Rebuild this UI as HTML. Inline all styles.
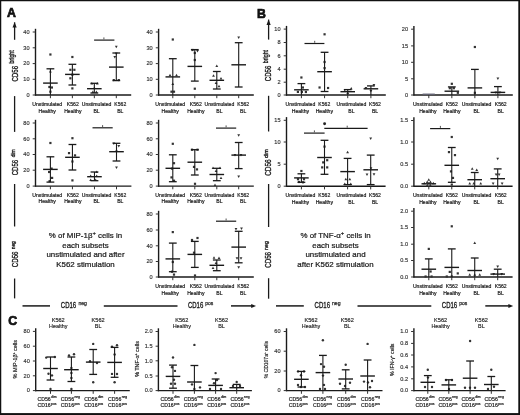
<!DOCTYPE html><html><head><meta charset="utf-8"><title>Figure</title>
<style>html,body{margin:0;padding:0;background:#fff;}svg{display:block;will-change:transform;}text{font-family:"Liberation Sans", sans-serif;}</style></head><body>
<svg width="520" height="415" viewBox="0 0 520 415">
<rect x="0" y="0" width="520" height="415" fill="#fff"/>
<line x1="35.50" y1="28.80" x2="35.50" y2="95.60" stroke="#1a1a1a" stroke-width="1.4"/>
<line x1="34.90" y1="95.00" x2="131.20" y2="95.00" stroke="#1a1a1a" stroke-width="1.4"/>
<line x1="32.70" y1="32.00" x2="35.50" y2="32.00" stroke="#333" stroke-width="1.0"/>
<text x="29.60" y="33.70" font-size="5.6" text-anchor="end" fill="#333" stroke="#333" stroke-width="0.15" >40</text>
<line x1="32.70" y1="47.80" x2="35.50" y2="47.80" stroke="#333" stroke-width="1.0"/>
<text x="29.60" y="49.50" font-size="5.6" text-anchor="end" fill="#333" stroke="#333" stroke-width="0.15" >30</text>
<line x1="32.70" y1="63.60" x2="35.50" y2="63.60" stroke="#333" stroke-width="1.0"/>
<text x="29.60" y="65.30" font-size="5.6" text-anchor="end" fill="#333" stroke="#333" stroke-width="0.15" >20</text>
<line x1="32.70" y1="79.30" x2="35.50" y2="79.30" stroke="#333" stroke-width="1.0"/>
<text x="29.60" y="81.00" font-size="5.6" text-anchor="end" fill="#333" stroke="#333" stroke-width="0.15" >10</text>
<line x1="32.70" y1="95.00" x2="35.50" y2="95.00" stroke="#333" stroke-width="1.0"/>
<text x="29.60" y="96.70" font-size="5.6" text-anchor="end" fill="#333" stroke="#333" stroke-width="0.15" >0</text>
<line x1="50.40" y1="95.00" x2="50.40" y2="98.20" stroke="#333" stroke-width="1.0"/>
<rect x="49.30" y="53.40" width="2.2" height="2.2" fill="#333"/>
<path d="M50.40 70.10L51.80 72.60L49.00 72.60Z" fill="#333"/>
<rect x="48.30" y="85.90" width="2.2" height="2.2" fill="#333"/>
<rect x="50.80" y="86.40" width="2.2" height="2.2" fill="#333"/>
<rect x="49.30" y="90.60" width="2.2" height="2.2" fill="#333"/>
<line x1="50.40" y1="68.80" x2="50.40" y2="95.00" stroke="#1a1a1a" stroke-width="1.1"/>
<line x1="46.50" y1="68.80" x2="54.30" y2="68.80" stroke="#1a1a1a" stroke-width="1.3"/>
<line x1="43.10" y1="83.10" x2="57.70" y2="83.10" stroke="#1a1a1a" stroke-width="1.4"/>
<line x1="72.37" y1="95.00" x2="72.37" y2="98.20" stroke="#333" stroke-width="1.0"/>
<rect x="71.27" y="55.90" width="2.2" height="2.2" fill="#333"/>
<rect x="69.27" y="68.70" width="2.2" height="2.2" fill="#333"/>
<rect x="73.27" y="68.70" width="2.2" height="2.2" fill="#333"/>
<rect x="71.27" y="73.60" width="2.2" height="2.2" fill="#333"/>
<rect x="69.27" y="77.20" width="2.2" height="2.2" fill="#333"/>
<rect x="71.27" y="87.30" width="2.2" height="2.2" fill="#333"/>
<line x1="72.37" y1="64.30" x2="72.37" y2="85.00" stroke="#1a1a1a" stroke-width="1.1"/>
<line x1="68.47" y1="64.30" x2="76.27" y2="64.30" stroke="#1a1a1a" stroke-width="1.3"/>
<line x1="68.47" y1="85.00" x2="76.27" y2="85.00" stroke="#1a1a1a" stroke-width="1.3"/>
<line x1="65.07" y1="74.40" x2="79.67" y2="74.40" stroke="#1a1a1a" stroke-width="1.4"/>
<line x1="94.33" y1="95.00" x2="94.33" y2="98.20" stroke="#333" stroke-width="1.0"/>
<path d="M91.83 82.10L93.23 84.60L90.43 84.60Z" fill="#333"/>
<path d="M97.33 82.10L98.73 84.60L95.93 84.60Z" fill="#333"/>
<path d="M94.33 86.60L95.73 89.10L92.93 89.10Z" fill="#333"/>
<path d="M92.83 90.60L94.23 93.10L91.43 93.10Z" fill="#333"/>
<path d="M96.33 90.60L97.73 93.10L94.93 93.10Z" fill="#333"/>
<line x1="94.33" y1="83.30" x2="94.33" y2="93.00" stroke="#1a1a1a" stroke-width="1.1"/>
<line x1="90.43" y1="83.30" x2="98.23" y2="83.30" stroke="#1a1a1a" stroke-width="1.3"/>
<line x1="90.43" y1="93.00" x2="98.23" y2="93.00" stroke="#1a1a1a" stroke-width="1.3"/>
<line x1="87.03" y1="88.70" x2="101.63" y2="88.70" stroke="#1a1a1a" stroke-width="1.4"/>
<line x1="116.30" y1="95.00" x2="116.30" y2="98.20" stroke="#333" stroke-width="1.0"/>
<path d="M116.30 48.30L117.70 45.80L114.90 45.80Z" fill="#333"/>
<path d="M116.30 54.90L117.70 52.40L114.90 52.40Z" fill="#333"/>
<path d="M114.80 58.40L116.20 55.90L113.40 55.90Z" fill="#333"/>
<path d="M113.80 81.60L115.20 79.10L112.40 79.10Z" fill="#333"/>
<path d="M118.80 81.60L120.20 79.10L117.40 79.10Z" fill="#333"/>
<line x1="116.30" y1="53.00" x2="116.30" y2="80.60" stroke="#1a1a1a" stroke-width="1.1"/>
<line x1="112.40" y1="53.00" x2="120.20" y2="53.00" stroke="#1a1a1a" stroke-width="1.3"/>
<line x1="112.40" y1="80.60" x2="120.20" y2="80.60" stroke="#1a1a1a" stroke-width="1.3"/>
<line x1="109.00" y1="67.10" x2="123.60" y2="67.10" stroke="#1a1a1a" stroke-width="1.4"/>
<text x="47.20" y="106.00" font-size="5.1" text-anchor="middle" fill="#1a1a1a" stroke="#1a1a1a" stroke-width="0.2" >Unstimulated</text>
<text x="47.20" y="112.60" font-size="5.1" text-anchor="middle" fill="#1a1a1a" stroke="#1a1a1a" stroke-width="0.2" >Healthy</text>
<text x="72.80" y="106.00" font-size="5.1" text-anchor="middle" fill="#1a1a1a" stroke="#1a1a1a" stroke-width="0.2" >K562</text>
<text x="72.80" y="112.60" font-size="5.1" text-anchor="middle" fill="#1a1a1a" stroke="#1a1a1a" stroke-width="0.2" >Healthy</text>
<text x="96.60" y="106.00" font-size="5.1" text-anchor="middle" fill="#1a1a1a" stroke="#1a1a1a" stroke-width="0.2" >Unstimulated</text>
<text x="96.60" y="112.60" font-size="5.1" text-anchor="middle" fill="#1a1a1a" stroke="#1a1a1a" stroke-width="0.2" >BL</text>
<text x="120.30" y="106.00" font-size="5.1" text-anchor="middle" fill="#1a1a1a" stroke="#1a1a1a" stroke-width="0.2" >K562</text>
<text x="120.30" y="112.60" font-size="5.1" text-anchor="middle" fill="#1a1a1a" stroke="#1a1a1a" stroke-width="0.2" >BL</text>
<line x1="94.10" y1="40.10" x2="114.40" y2="40.10" stroke="#1a1a1a" stroke-width="1.2"/>
<rect x="103.40" y="37.40" width="1.0" height="2.0" fill="#555"/>
<line x1="158.60" y1="28.80" x2="158.60" y2="95.60" stroke="#1a1a1a" stroke-width="1.4"/>
<line x1="158.00" y1="95.00" x2="253.80" y2="95.00" stroke="#1a1a1a" stroke-width="1.4"/>
<line x1="155.80" y1="32.00" x2="158.60" y2="32.00" stroke="#333" stroke-width="1.0"/>
<text x="152.70" y="33.70" font-size="5.6" text-anchor="end" fill="#333" stroke="#333" stroke-width="0.15" >40</text>
<line x1="155.80" y1="47.80" x2="158.60" y2="47.80" stroke="#333" stroke-width="1.0"/>
<text x="152.70" y="49.50" font-size="5.6" text-anchor="end" fill="#333" stroke="#333" stroke-width="0.15" >30</text>
<line x1="155.80" y1="63.60" x2="158.60" y2="63.60" stroke="#333" stroke-width="1.0"/>
<text x="152.70" y="65.30" font-size="5.6" text-anchor="end" fill="#333" stroke="#333" stroke-width="0.15" >20</text>
<line x1="155.80" y1="79.30" x2="158.60" y2="79.30" stroke="#333" stroke-width="1.0"/>
<text x="152.70" y="81.00" font-size="5.6" text-anchor="end" fill="#333" stroke="#333" stroke-width="0.15" >10</text>
<line x1="155.80" y1="95.00" x2="158.60" y2="95.00" stroke="#333" stroke-width="1.0"/>
<text x="152.70" y="96.70" font-size="5.6" text-anchor="end" fill="#333" stroke="#333" stroke-width="0.15" >0</text>
<line x1="172.80" y1="95.00" x2="172.80" y2="98.20" stroke="#333" stroke-width="1.0"/>
<rect x="171.70" y="38.40" width="2.2" height="2.2" fill="#333"/>
<path d="M170.00 73.80L171.40 76.30L168.60 76.30Z" fill="#333"/>
<path d="M176.50 73.80L177.90 76.30L175.10 76.30Z" fill="#333"/>
<path d="M172.80 82.60L174.20 85.10L171.40 85.10Z" fill="#333"/>
<rect x="170.40" y="90.60" width="2.2" height="2.2" fill="#333"/>
<rect x="172.90" y="90.60" width="2.2" height="2.2" fill="#333"/>
<line x1="172.80" y1="58.70" x2="172.80" y2="95.00" stroke="#1a1a1a" stroke-width="1.1"/>
<line x1="168.90" y1="58.70" x2="176.70" y2="58.70" stroke="#1a1a1a" stroke-width="1.3"/>
<line x1="165.50" y1="76.90" x2="180.10" y2="76.90" stroke="#1a1a1a" stroke-width="1.4"/>
<line x1="194.80" y1="95.00" x2="194.80" y2="98.20" stroke="#333" stroke-width="1.0"/>
<rect x="191.40" y="48.90" width="2.2" height="2.2" fill="#333"/>
<path d="M197.50 52.40L198.90 49.90L196.10 49.90Z" fill="#333"/>
<rect x="193.70" y="51.90" width="2.2" height="2.2" fill="#333"/>
<rect x="193.70" y="58.90" width="2.2" height="2.2" fill="#333"/>
<rect x="193.70" y="87.60" width="2.2" height="2.2" fill="#333"/>
<line x1="194.80" y1="49.60" x2="194.80" y2="81.10" stroke="#1a1a1a" stroke-width="1.1"/>
<line x1="190.90" y1="49.60" x2="198.70" y2="49.60" stroke="#1a1a1a" stroke-width="1.3"/>
<line x1="190.90" y1="81.10" x2="198.70" y2="81.10" stroke="#1a1a1a" stroke-width="1.3"/>
<line x1="187.50" y1="66.40" x2="202.10" y2="66.40" stroke="#1a1a1a" stroke-width="1.4"/>
<line x1="216.80" y1="95.00" x2="216.80" y2="98.20" stroke="#333" stroke-width="1.0"/>
<path d="M216.80 64.60L218.20 67.10L215.40 67.10Z" fill="#333"/>
<path d="M213.50 74.30L214.90 76.80L212.10 76.80Z" fill="#333"/>
<path d="M221.00 76.90L222.40 79.40L219.60 79.40Z" fill="#333"/>
<path d="M216.00 81.40L217.40 83.90L214.60 83.90Z" fill="#333"/>
<path d="M219.00 84.80L220.40 87.30L217.60 87.30Z" fill="#333"/>
<line x1="216.80" y1="71.50" x2="216.80" y2="89.00" stroke="#1a1a1a" stroke-width="1.1"/>
<line x1="212.90" y1="71.50" x2="220.70" y2="71.50" stroke="#1a1a1a" stroke-width="1.3"/>
<line x1="212.90" y1="89.00" x2="220.70" y2="89.00" stroke="#1a1a1a" stroke-width="1.3"/>
<line x1="209.50" y1="80.30" x2="224.10" y2="80.30" stroke="#1a1a1a" stroke-width="1.4"/>
<line x1="238.70" y1="95.00" x2="238.70" y2="98.20" stroke="#333" stroke-width="1.0"/>
<path d="M238.70 39.00L240.10 36.50L237.30 36.50Z" fill="#333"/>
<line x1="238.70" y1="42.70" x2="238.70" y2="87.00" stroke="#1a1a1a" stroke-width="1.1"/>
<line x1="234.80" y1="42.70" x2="242.60" y2="42.70" stroke="#1a1a1a" stroke-width="1.3"/>
<line x1="234.80" y1="87.00" x2="242.60" y2="87.00" stroke="#1a1a1a" stroke-width="1.3"/>
<line x1="231.40" y1="64.80" x2="246.00" y2="64.80" stroke="#1a1a1a" stroke-width="1.4"/>
<text x="170.20" y="106.00" font-size="5.1" text-anchor="middle" fill="#1a1a1a" stroke="#1a1a1a" stroke-width="0.2" >Unstimulated</text>
<text x="170.20" y="112.60" font-size="5.1" text-anchor="middle" fill="#1a1a1a" stroke="#1a1a1a" stroke-width="0.2" >Healthy</text>
<text x="195.80" y="106.00" font-size="5.1" text-anchor="middle" fill="#1a1a1a" stroke="#1a1a1a" stroke-width="0.2" >K562</text>
<text x="195.80" y="112.60" font-size="5.1" text-anchor="middle" fill="#1a1a1a" stroke="#1a1a1a" stroke-width="0.2" >Healthy</text>
<text x="219.40" y="106.00" font-size="5.1" text-anchor="middle" fill="#1a1a1a" stroke="#1a1a1a" stroke-width="0.2" >Unstimulated</text>
<text x="219.40" y="112.60" font-size="5.1" text-anchor="middle" fill="#1a1a1a" stroke="#1a1a1a" stroke-width="0.2" >BL</text>
<text x="243.20" y="106.00" font-size="5.1" text-anchor="middle" fill="#1a1a1a" stroke="#1a1a1a" stroke-width="0.2" >K562</text>
<text x="243.20" y="112.60" font-size="5.1" text-anchor="middle" fill="#1a1a1a" stroke="#1a1a1a" stroke-width="0.2" >BL</text>
<line x1="35.50" y1="119.80" x2="35.50" y2="186.70" stroke="#1a1a1a" stroke-width="1.4"/>
<line x1="34.90" y1="186.10" x2="131.40" y2="186.10" stroke="#1a1a1a" stroke-width="1.4"/>
<line x1="32.70" y1="123.00" x2="35.50" y2="123.00" stroke="#333" stroke-width="1.0"/>
<text x="29.60" y="124.70" font-size="5.6" text-anchor="end" fill="#333" stroke="#333" stroke-width="0.15" >80</text>
<line x1="32.70" y1="138.80" x2="35.50" y2="138.80" stroke="#333" stroke-width="1.0"/>
<text x="29.60" y="140.50" font-size="5.6" text-anchor="end" fill="#333" stroke="#333" stroke-width="0.15" >60</text>
<line x1="32.70" y1="154.50" x2="35.50" y2="154.50" stroke="#333" stroke-width="1.0"/>
<text x="29.60" y="156.20" font-size="5.6" text-anchor="end" fill="#333" stroke="#333" stroke-width="0.15" >40</text>
<line x1="32.70" y1="170.20" x2="35.50" y2="170.20" stroke="#333" stroke-width="1.0"/>
<text x="29.60" y="171.90" font-size="5.6" text-anchor="end" fill="#333" stroke="#333" stroke-width="0.15" >20</text>
<line x1="32.70" y1="186.10" x2="35.50" y2="186.10" stroke="#333" stroke-width="1.0"/>
<text x="29.60" y="187.80" font-size="5.6" text-anchor="end" fill="#333" stroke="#333" stroke-width="0.15" >0</text>
<line x1="50.40" y1="186.10" x2="50.40" y2="189.30" stroke="#333" stroke-width="1.0"/>
<rect x="49.30" y="141.90" width="2.2" height="2.2" fill="#333"/>
<rect x="50.50" y="167.50" width="2.2" height="2.2" fill="#333"/>
<rect x="48.00" y="170.90" width="2.2" height="2.2" fill="#333"/>
<rect x="51.00" y="176.80" width="2.2" height="2.2" fill="#333"/>
<rect x="48.50" y="180.10" width="2.2" height="2.2" fill="#333"/>
<line x1="50.40" y1="156.80" x2="50.40" y2="182.10" stroke="#1a1a1a" stroke-width="1.1"/>
<line x1="46.50" y1="156.80" x2="54.30" y2="156.80" stroke="#1a1a1a" stroke-width="1.3"/>
<line x1="46.50" y1="182.10" x2="54.30" y2="182.10" stroke="#1a1a1a" stroke-width="1.3"/>
<line x1="43.10" y1="169.40" x2="57.70" y2="169.40" stroke="#1a1a1a" stroke-width="1.4"/>
<line x1="72.43" y1="186.10" x2="72.43" y2="189.30" stroke="#333" stroke-width="1.0"/>
<rect x="71.33" y="137.10" width="2.2" height="2.2" fill="#333"/>
<rect x="67.93" y="152.00" width="2.2" height="2.2" fill="#333"/>
<rect x="73.93" y="154.30" width="2.2" height="2.2" fill="#333"/>
<rect x="71.33" y="160.40" width="2.2" height="2.2" fill="#333"/>
<rect x="71.33" y="179.30" width="2.2" height="2.2" fill="#333"/>
<line x1="72.43" y1="144.50" x2="72.43" y2="170.00" stroke="#1a1a1a" stroke-width="1.1"/>
<line x1="68.53" y1="144.50" x2="76.33" y2="144.50" stroke="#1a1a1a" stroke-width="1.3"/>
<line x1="68.53" y1="170.00" x2="76.33" y2="170.00" stroke="#1a1a1a" stroke-width="1.3"/>
<line x1="65.13" y1="157.30" x2="79.73" y2="157.30" stroke="#1a1a1a" stroke-width="1.4"/>
<line x1="94.47" y1="186.10" x2="94.47" y2="189.30" stroke="#333" stroke-width="1.0"/>
<path d="M96.67 170.60L98.07 173.10L95.27 173.10Z" fill="#333"/>
<path d="M90.67 174.60L92.07 177.10L89.27 177.10Z" fill="#333"/>
<path d="M96.67 174.60L98.07 177.10L95.27 177.10Z" fill="#333"/>
<path d="M90.67 178.60L92.07 181.10L89.27 181.10Z" fill="#333"/>
<path d="M95.67 178.60L97.07 181.10L94.27 181.10Z" fill="#333"/>
<line x1="94.47" y1="172.00" x2="94.47" y2="180.70" stroke="#1a1a1a" stroke-width="1.1"/>
<line x1="90.57" y1="172.00" x2="98.37" y2="172.00" stroke="#1a1a1a" stroke-width="1.3"/>
<line x1="90.57" y1="180.70" x2="98.37" y2="180.70" stroke="#1a1a1a" stroke-width="1.3"/>
<line x1="87.17" y1="176.70" x2="101.77" y2="176.70" stroke="#1a1a1a" stroke-width="1.4"/>
<line x1="116.50" y1="186.10" x2="116.50" y2="189.30" stroke="#333" stroke-width="1.0"/>
<path d="M116.50 169.10L117.90 166.60L115.10 166.60Z" fill="#333"/>
<path d="M113.80 144.90L115.20 142.40L112.40 142.40Z" fill="#333"/>
<path d="M118.80 147.40L120.20 144.90L117.40 144.90Z" fill="#333"/>
<path d="M116.50 152.90L117.90 150.40L115.10 150.40Z" fill="#333"/>
<line x1="116.50" y1="143.30" x2="116.50" y2="161.00" stroke="#1a1a1a" stroke-width="1.1"/>
<line x1="112.60" y1="143.30" x2="120.40" y2="143.30" stroke="#1a1a1a" stroke-width="1.3"/>
<line x1="112.60" y1="161.00" x2="120.40" y2="161.00" stroke="#1a1a1a" stroke-width="1.3"/>
<line x1="109.20" y1="151.70" x2="123.80" y2="151.70" stroke="#1a1a1a" stroke-width="1.4"/>
<text x="47.20" y="196.80" font-size="5.1" text-anchor="middle" fill="#1a1a1a" stroke="#1a1a1a" stroke-width="0.2" >Unstimulated</text>
<text x="47.20" y="203.40" font-size="5.1" text-anchor="middle" fill="#1a1a1a" stroke="#1a1a1a" stroke-width="0.2" >Healthy</text>
<text x="72.80" y="196.80" font-size="5.1" text-anchor="middle" fill="#1a1a1a" stroke="#1a1a1a" stroke-width="0.2" >K562</text>
<text x="72.80" y="203.40" font-size="5.1" text-anchor="middle" fill="#1a1a1a" stroke="#1a1a1a" stroke-width="0.2" >Healthy</text>
<text x="96.60" y="196.80" font-size="5.1" text-anchor="middle" fill="#1a1a1a" stroke="#1a1a1a" stroke-width="0.2" >Unstimulated</text>
<text x="96.60" y="203.40" font-size="5.1" text-anchor="middle" fill="#1a1a1a" stroke="#1a1a1a" stroke-width="0.2" >BL</text>
<text x="120.30" y="196.80" font-size="5.1" text-anchor="middle" fill="#1a1a1a" stroke="#1a1a1a" stroke-width="0.2" >K562</text>
<text x="120.30" y="203.40" font-size="5.1" text-anchor="middle" fill="#1a1a1a" stroke="#1a1a1a" stroke-width="0.2" >BL</text>
<line x1="92.50" y1="127.80" x2="112.70" y2="127.80" stroke="#1a1a1a" stroke-width="1.2"/>
<rect x="102.10" y="125.10" width="1.0" height="2.0" fill="#555"/>
<line x1="158.60" y1="119.80" x2="158.60" y2="186.70" stroke="#1a1a1a" stroke-width="1.4"/>
<line x1="158.00" y1="186.10" x2="253.80" y2="186.10" stroke="#1a1a1a" stroke-width="1.4"/>
<line x1="155.80" y1="123.00" x2="158.60" y2="123.00" stroke="#333" stroke-width="1.0"/>
<text x="152.70" y="124.70" font-size="5.6" text-anchor="end" fill="#333" stroke="#333" stroke-width="0.15" >80</text>
<line x1="155.80" y1="138.80" x2="158.60" y2="138.80" stroke="#333" stroke-width="1.0"/>
<text x="152.70" y="140.50" font-size="5.6" text-anchor="end" fill="#333" stroke="#333" stroke-width="0.15" >60</text>
<line x1="155.80" y1="154.50" x2="158.60" y2="154.50" stroke="#333" stroke-width="1.0"/>
<text x="152.70" y="156.20" font-size="5.6" text-anchor="end" fill="#333" stroke="#333" stroke-width="0.15" >40</text>
<line x1="155.80" y1="170.20" x2="158.60" y2="170.20" stroke="#333" stroke-width="1.0"/>
<text x="152.70" y="171.90" font-size="5.6" text-anchor="end" fill="#333" stroke="#333" stroke-width="0.15" >20</text>
<line x1="155.80" y1="186.10" x2="158.60" y2="186.10" stroke="#333" stroke-width="1.0"/>
<text x="152.70" y="187.80" font-size="5.6" text-anchor="end" fill="#333" stroke="#333" stroke-width="0.15" >0</text>
<line x1="172.80" y1="186.10" x2="172.80" y2="189.30" stroke="#333" stroke-width="1.0"/>
<rect x="171.70" y="142.70" width="2.2" height="2.2" fill="#333"/>
<rect x="172.90" y="162.10" width="2.2" height="2.2" fill="#333"/>
<rect x="170.90" y="167.50" width="2.2" height="2.2" fill="#333"/>
<rect x="170.40" y="176.30" width="2.2" height="2.2" fill="#333"/>
<rect x="172.90" y="179.60" width="2.2" height="2.2" fill="#333"/>
<line x1="172.80" y1="154.80" x2="172.80" y2="181.70" stroke="#1a1a1a" stroke-width="1.1"/>
<line x1="168.90" y1="154.80" x2="176.70" y2="154.80" stroke="#1a1a1a" stroke-width="1.3"/>
<line x1="168.90" y1="181.70" x2="176.70" y2="181.70" stroke="#1a1a1a" stroke-width="1.3"/>
<line x1="165.50" y1="168.30" x2="180.10" y2="168.30" stroke="#1a1a1a" stroke-width="1.4"/>
<line x1="194.80" y1="186.10" x2="194.80" y2="189.30" stroke="#333" stroke-width="1.0"/>
<rect x="190.90" y="148.60" width="2.2" height="2.2" fill="#333"/>
<rect x="196.40" y="148.60" width="2.2" height="2.2" fill="#333"/>
<rect x="192.90" y="165.80" width="2.2" height="2.2" fill="#333"/>
<rect x="195.90" y="168.30" width="2.2" height="2.2" fill="#333"/>
<rect x="193.90" y="182.70" width="2.2" height="2.2" fill="#333"/>
<line x1="194.80" y1="149.70" x2="194.80" y2="175.00" stroke="#1a1a1a" stroke-width="1.1"/>
<line x1="190.90" y1="149.70" x2="198.70" y2="149.70" stroke="#1a1a1a" stroke-width="1.3"/>
<line x1="190.90" y1="175.00" x2="198.70" y2="175.00" stroke="#1a1a1a" stroke-width="1.3"/>
<line x1="187.50" y1="162.20" x2="202.10" y2="162.20" stroke="#1a1a1a" stroke-width="1.4"/>
<line x1="216.80" y1="186.10" x2="216.80" y2="189.30" stroke="#333" stroke-width="1.0"/>
<path d="M213.00 166.60L214.40 169.10L211.60 169.10Z" fill="#333"/>
<path d="M220.00 166.60L221.40 169.10L218.60 169.10Z" fill="#333"/>
<path d="M216.00 169.60L217.40 172.10L214.60 172.10Z" fill="#333"/>
<path d="M221.00 176.60L222.40 179.10L219.60 179.10Z" fill="#333"/>
<path d="M215.00 183.60L216.40 186.10L213.60 186.10Z" fill="#333"/>
<line x1="216.80" y1="168.30" x2="216.80" y2="180.70" stroke="#1a1a1a" stroke-width="1.1"/>
<line x1="212.90" y1="168.30" x2="220.70" y2="168.30" stroke="#1a1a1a" stroke-width="1.3"/>
<line x1="212.90" y1="180.70" x2="220.70" y2="180.70" stroke="#1a1a1a" stroke-width="1.3"/>
<line x1="209.50" y1="174.50" x2="224.10" y2="174.50" stroke="#1a1a1a" stroke-width="1.4"/>
<line x1="238.70" y1="186.10" x2="238.70" y2="189.30" stroke="#333" stroke-width="1.0"/>
<path d="M238.70 136.80L240.10 134.30L237.30 134.30Z" fill="#333"/>
<path d="M238.70 178.10L240.10 175.60L237.30 175.60Z" fill="#333"/>
<path d="M235.00 156.40L236.40 153.90L233.60 153.90Z" fill="#333"/>
<path d="M241.00 156.40L242.40 153.90L239.60 153.90Z" fill="#333"/>
<line x1="238.70" y1="142.50" x2="238.70" y2="168.60" stroke="#1a1a1a" stroke-width="1.1"/>
<line x1="234.80" y1="142.50" x2="242.60" y2="142.50" stroke="#1a1a1a" stroke-width="1.3"/>
<line x1="234.80" y1="168.60" x2="242.60" y2="168.60" stroke="#1a1a1a" stroke-width="1.3"/>
<line x1="231.40" y1="155.10" x2="246.00" y2="155.10" stroke="#1a1a1a" stroke-width="1.4"/>
<text x="170.20" y="196.80" font-size="5.1" text-anchor="middle" fill="#1a1a1a" stroke="#1a1a1a" stroke-width="0.2" >Unstimulated</text>
<text x="170.20" y="203.40" font-size="5.1" text-anchor="middle" fill="#1a1a1a" stroke="#1a1a1a" stroke-width="0.2" >Healthy</text>
<text x="195.80" y="196.80" font-size="5.1" text-anchor="middle" fill="#1a1a1a" stroke="#1a1a1a" stroke-width="0.2" >K562</text>
<text x="195.80" y="203.40" font-size="5.1" text-anchor="middle" fill="#1a1a1a" stroke="#1a1a1a" stroke-width="0.2" >Healthy</text>
<text x="219.40" y="196.80" font-size="5.1" text-anchor="middle" fill="#1a1a1a" stroke="#1a1a1a" stroke-width="0.2" >Unstimulated</text>
<text x="219.40" y="203.40" font-size="5.1" text-anchor="middle" fill="#1a1a1a" stroke="#1a1a1a" stroke-width="0.2" >BL</text>
<text x="243.20" y="196.80" font-size="5.1" text-anchor="middle" fill="#1a1a1a" stroke="#1a1a1a" stroke-width="0.2" >K562</text>
<text x="243.20" y="203.40" font-size="5.1" text-anchor="middle" fill="#1a1a1a" stroke="#1a1a1a" stroke-width="0.2" >BL</text>
<line x1="216.00" y1="128.10" x2="236.20" y2="128.10" stroke="#1a1a1a" stroke-width="1.2"/>
<rect x="225.60" y="125.40" width="1.0" height="2.0" fill="#555"/>
<line x1="158.60" y1="210.80" x2="158.60" y2="277.60" stroke="#1a1a1a" stroke-width="1.4"/>
<line x1="158.00" y1="277.00" x2="253.80" y2="277.00" stroke="#1a1a1a" stroke-width="1.4"/>
<line x1="155.80" y1="214.00" x2="158.60" y2="214.00" stroke="#333" stroke-width="1.0"/>
<text x="152.70" y="215.70" font-size="5.6" text-anchor="end" fill="#333" stroke="#333" stroke-width="0.15" >80</text>
<line x1="155.80" y1="230.00" x2="158.60" y2="230.00" stroke="#333" stroke-width="1.0"/>
<text x="152.70" y="231.70" font-size="5.6" text-anchor="end" fill="#333" stroke="#333" stroke-width="0.15" >60</text>
<line x1="155.80" y1="245.80" x2="158.60" y2="245.80" stroke="#333" stroke-width="1.0"/>
<text x="152.70" y="247.50" font-size="5.6" text-anchor="end" fill="#333" stroke="#333" stroke-width="0.15" >40</text>
<line x1="155.80" y1="261.50" x2="158.60" y2="261.50" stroke="#333" stroke-width="1.0"/>
<text x="152.70" y="263.20" font-size="5.6" text-anchor="end" fill="#333" stroke="#333" stroke-width="0.15" >20</text>
<line x1="155.80" y1="277.00" x2="158.60" y2="277.00" stroke="#333" stroke-width="1.0"/>
<text x="152.70" y="278.70" font-size="5.6" text-anchor="end" fill="#333" stroke="#333" stroke-width="0.15" >0</text>
<line x1="172.80" y1="277.00" x2="172.80" y2="280.20" stroke="#333" stroke-width="1.0"/>
<rect x="171.70" y="231.00" width="2.2" height="2.2" fill="#333"/>
<rect x="170.90" y="270.60" width="2.2" height="2.2" fill="#333"/>
<rect x="172.90" y="273.50" width="2.2" height="2.2" fill="#333"/>
<rect x="171.70" y="260.90" width="2.2" height="2.2" fill="#333"/>
<line x1="172.80" y1="243.10" x2="172.80" y2="271.70" stroke="#1a1a1a" stroke-width="1.1"/>
<line x1="168.90" y1="243.10" x2="176.70" y2="243.10" stroke="#1a1a1a" stroke-width="1.3"/>
<line x1="168.90" y1="271.70" x2="176.70" y2="271.70" stroke="#1a1a1a" stroke-width="1.3"/>
<line x1="165.50" y1="258.90" x2="180.10" y2="258.90" stroke="#1a1a1a" stroke-width="1.4"/>
<line x1="194.80" y1="277.00" x2="194.80" y2="280.20" stroke="#333" stroke-width="1.0"/>
<rect x="190.90" y="238.90" width="2.2" height="2.2" fill="#333"/>
<rect x="196.40" y="236.90" width="2.2" height="2.2" fill="#333"/>
<rect x="192.90" y="251.60" width="2.2" height="2.2" fill="#333"/>
<rect x="193.90" y="274.40" width="2.2" height="2.2" fill="#333"/>
<line x1="194.80" y1="241.40" x2="194.80" y2="267.40" stroke="#1a1a1a" stroke-width="1.1"/>
<line x1="190.90" y1="241.40" x2="198.70" y2="241.40" stroke="#1a1a1a" stroke-width="1.3"/>
<line x1="190.90" y1="267.40" x2="198.70" y2="267.40" stroke="#1a1a1a" stroke-width="1.3"/>
<line x1="187.50" y1="254.40" x2="202.10" y2="254.40" stroke="#1a1a1a" stroke-width="1.4"/>
<line x1="216.80" y1="277.00" x2="216.80" y2="280.20" stroke="#333" stroke-width="1.0"/>
<path d="M214.00 256.30L215.40 258.80L212.60 258.80Z" fill="#333"/>
<path d="M219.00 256.60L220.40 259.10L217.60 259.10Z" fill="#333"/>
<path d="M216.00 261.60L217.40 264.10L214.60 264.10Z" fill="#333"/>
<path d="M213.00 266.60L214.40 269.10L211.60 269.10Z" fill="#333"/>
<line x1="216.80" y1="260.00" x2="216.80" y2="270.70" stroke="#1a1a1a" stroke-width="1.1"/>
<line x1="212.90" y1="260.00" x2="220.70" y2="260.00" stroke="#1a1a1a" stroke-width="1.3"/>
<line x1="212.90" y1="270.70" x2="220.70" y2="270.70" stroke="#1a1a1a" stroke-width="1.3"/>
<line x1="209.50" y1="265.30" x2="224.10" y2="265.30" stroke="#1a1a1a" stroke-width="1.4"/>
<line x1="238.70" y1="277.00" x2="238.70" y2="280.20" stroke="#333" stroke-width="1.0"/>
<path d="M236.00 230.40L237.40 227.90L234.60 227.90Z" fill="#333"/>
<path d="M241.50 229.90L242.90 227.40L240.10 227.40Z" fill="#333"/>
<path d="M237.00 259.70L238.40 257.20L235.60 257.20Z" fill="#333"/>
<path d="M241.00 259.70L242.40 257.20L239.60 257.20Z" fill="#333"/>
<path d="M238.70 268.80L240.10 266.30L237.30 266.30Z" fill="#333"/>
<line x1="238.70" y1="231.30" x2="238.70" y2="262.80" stroke="#1a1a1a" stroke-width="1.1"/>
<line x1="234.80" y1="231.30" x2="242.60" y2="231.30" stroke="#1a1a1a" stroke-width="1.3"/>
<line x1="234.80" y1="262.80" x2="242.60" y2="262.80" stroke="#1a1a1a" stroke-width="1.3"/>
<line x1="231.40" y1="247.10" x2="246.00" y2="247.10" stroke="#1a1a1a" stroke-width="1.4"/>
<text x="170.20" y="288.00" font-size="5.1" text-anchor="middle" fill="#1a1a1a" stroke="#1a1a1a" stroke-width="0.2" >Unstimulated</text>
<text x="170.20" y="294.60" font-size="5.1" text-anchor="middle" fill="#1a1a1a" stroke="#1a1a1a" stroke-width="0.2" >Healthy</text>
<text x="195.80" y="288.00" font-size="5.1" text-anchor="middle" fill="#1a1a1a" stroke="#1a1a1a" stroke-width="0.2" >K562</text>
<text x="195.80" y="294.60" font-size="5.1" text-anchor="middle" fill="#1a1a1a" stroke="#1a1a1a" stroke-width="0.2" >Healthy</text>
<text x="219.40" y="288.00" font-size="5.1" text-anchor="middle" fill="#1a1a1a" stroke="#1a1a1a" stroke-width="0.2" >Unstimulated</text>
<text x="219.40" y="294.60" font-size="5.1" text-anchor="middle" fill="#1a1a1a" stroke="#1a1a1a" stroke-width="0.2" >BL</text>
<text x="243.20" y="288.00" font-size="5.1" text-anchor="middle" fill="#1a1a1a" stroke="#1a1a1a" stroke-width="0.2" >K562</text>
<text x="243.20" y="294.60" font-size="5.1" text-anchor="middle" fill="#1a1a1a" stroke="#1a1a1a" stroke-width="0.2" >BL</text>
<line x1="216.00" y1="221.20" x2="236.20" y2="221.20" stroke="#1a1a1a" stroke-width="1.2"/>
<rect x="225.60" y="218.50" width="1.0" height="2.0" fill="#555"/>
<line x1="286.50" y1="25.90" x2="286.50" y2="95.60" stroke="#1a1a1a" stroke-width="1.4"/>
<line x1="285.90" y1="95.00" x2="385.80" y2="95.00" stroke="#1a1a1a" stroke-width="1.4"/>
<line x1="283.70" y1="29.10" x2="286.50" y2="29.10" stroke="#333" stroke-width="1.0"/>
<text x="280.60" y="30.80" font-size="5.6" text-anchor="end" fill="#333" stroke="#333" stroke-width="0.15" >10</text>
<line x1="283.70" y1="42.50" x2="286.50" y2="42.50" stroke="#333" stroke-width="1.0"/>
<text x="280.60" y="44.20" font-size="5.6" text-anchor="end" fill="#333" stroke="#333" stroke-width="0.15" >8</text>
<line x1="283.70" y1="55.80" x2="286.50" y2="55.80" stroke="#333" stroke-width="1.0"/>
<text x="280.60" y="57.50" font-size="5.6" text-anchor="end" fill="#333" stroke="#333" stroke-width="0.15" >6</text>
<line x1="283.70" y1="69.20" x2="286.50" y2="69.20" stroke="#333" stroke-width="1.0"/>
<text x="280.60" y="70.90" font-size="5.6" text-anchor="end" fill="#333" stroke="#333" stroke-width="0.15" >4</text>
<line x1="283.70" y1="82.20" x2="286.50" y2="82.20" stroke="#333" stroke-width="1.0"/>
<text x="280.60" y="83.90" font-size="5.6" text-anchor="end" fill="#333" stroke="#333" stroke-width="0.15" >2</text>
<line x1="283.70" y1="95.00" x2="286.50" y2="95.00" stroke="#333" stroke-width="1.0"/>
<text x="280.60" y="96.70" font-size="5.6" text-anchor="end" fill="#333" stroke="#333" stroke-width="0.15" >0</text>
<line x1="301.40" y1="95.00" x2="301.40" y2="98.20" stroke="#333" stroke-width="1.0"/>
<rect x="300.30" y="76.40" width="2.2" height="2.2" fill="#333"/>
<rect x="301.80" y="86.40" width="2.2" height="2.2" fill="#333"/>
<rect x="296.80" y="90.80" width="2.2" height="2.2" fill="#333"/>
<rect x="300.80" y="90.90" width="2.2" height="2.2" fill="#333"/>
<rect x="304.80" y="90.90" width="2.2" height="2.2" fill="#333"/>
<line x1="301.40" y1="83.60" x2="301.40" y2="95.00" stroke="#1a1a1a" stroke-width="1.1"/>
<line x1="297.50" y1="83.60" x2="305.30" y2="83.60" stroke="#1a1a1a" stroke-width="1.3"/>
<line x1="294.10" y1="89.80" x2="308.70" y2="89.80" stroke="#1a1a1a" stroke-width="1.4"/>
<line x1="324.57" y1="95.00" x2="324.57" y2="98.20" stroke="#333" stroke-width="1.0"/>
<rect x="323.47" y="33.20" width="2.2" height="2.2" fill="#333"/>
<rect x="323.47" y="60.90" width="2.2" height="2.2" fill="#333"/>
<rect x="323.47" y="67.00" width="2.2" height="2.2" fill="#333"/>
<rect x="318.47" y="86.40" width="2.2" height="2.2" fill="#333"/>
<rect x="326.97" y="86.90" width="2.2" height="2.2" fill="#333"/>
<line x1="324.57" y1="52.30" x2="324.57" y2="91.50" stroke="#1a1a1a" stroke-width="1.1"/>
<line x1="320.67" y1="52.30" x2="328.47" y2="52.30" stroke="#1a1a1a" stroke-width="1.3"/>
<line x1="320.67" y1="91.50" x2="328.47" y2="91.50" stroke="#1a1a1a" stroke-width="1.3"/>
<line x1="317.27" y1="71.70" x2="331.87" y2="71.70" stroke="#1a1a1a" stroke-width="1.4"/>
<line x1="347.73" y1="95.00" x2="347.73" y2="98.20" stroke="#333" stroke-width="1.0"/>
<path d="M351.23 87.10L352.63 89.60L349.83 89.60Z" fill="#333"/>
<path d="M344.73 89.60L346.13 92.10L343.33 92.10Z" fill="#333"/>
<path d="M347.73 91.60L349.13 94.10L346.33 94.10Z" fill="#333"/>
<line x1="347.73" y1="89.60" x2="347.73" y2="95.00" stroke="#1a1a1a" stroke-width="1.1"/>
<line x1="343.83" y1="89.60" x2="351.63" y2="89.60" stroke="#1a1a1a" stroke-width="1.3"/>
<line x1="340.43" y1="91.70" x2="355.03" y2="91.70" stroke="#1a1a1a" stroke-width="1.4"/>
<line x1="370.90" y1="95.00" x2="370.90" y2="98.20" stroke="#333" stroke-width="1.0"/>
<path d="M373.90 86.40L375.30 83.90L372.50 83.90Z" fill="#333"/>
<path d="M365.90 89.40L367.30 86.90L364.50 86.90Z" fill="#333"/>
<path d="M370.90 92.40L372.30 89.90L369.50 89.90Z" fill="#333"/>
<line x1="370.90" y1="85.90" x2="370.90" y2="95.00" stroke="#1a1a1a" stroke-width="1.1"/>
<line x1="367.00" y1="85.90" x2="374.80" y2="85.90" stroke="#1a1a1a" stroke-width="1.3"/>
<line x1="363.60" y1="88.80" x2="378.20" y2="88.80" stroke="#1a1a1a" stroke-width="1.4"/>
<text x="300.40" y="106.00" font-size="5.1" text-anchor="middle" fill="#1a1a1a" stroke="#1a1a1a" stroke-width="0.2" >Unstimulated</text>
<text x="300.40" y="112.60" font-size="5.1" text-anchor="middle" fill="#1a1a1a" stroke="#1a1a1a" stroke-width="0.2" >Healthy</text>
<text x="324.30" y="106.00" font-size="5.1" text-anchor="middle" fill="#1a1a1a" stroke="#1a1a1a" stroke-width="0.2" >K562</text>
<text x="324.30" y="112.60" font-size="5.1" text-anchor="middle" fill="#1a1a1a" stroke="#1a1a1a" stroke-width="0.2" >Healthy</text>
<text x="351.40" y="106.00" font-size="5.1" text-anchor="middle" fill="#1a1a1a" stroke="#1a1a1a" stroke-width="0.2" >Unstimulated</text>
<text x="351.40" y="112.60" font-size="5.1" text-anchor="middle" fill="#1a1a1a" stroke="#1a1a1a" stroke-width="0.2" >BL</text>
<text x="375.00" y="106.00" font-size="5.1" text-anchor="middle" fill="#1a1a1a" stroke="#1a1a1a" stroke-width="0.2" >K562</text>
<text x="375.00" y="112.60" font-size="5.1" text-anchor="middle" fill="#1a1a1a" stroke="#1a1a1a" stroke-width="0.2" >BL</text>
<line x1="304.50" y1="43.50" x2="324.40" y2="43.50" stroke="#1a1a1a" stroke-width="1.2"/>
<rect x="314.20" y="40.80" width="1.0" height="2.0" fill="#555"/>
<line x1="413.90" y1="26.00" x2="413.90" y2="95.60" stroke="#1a1a1a" stroke-width="1.4"/>
<line x1="413.30" y1="95.00" x2="512.80" y2="95.00" stroke="#1a1a1a" stroke-width="1.4"/>
<line x1="411.10" y1="29.20" x2="413.90" y2="29.20" stroke="#333" stroke-width="1.0"/>
<text x="408.00" y="30.90" font-size="5.6" text-anchor="end" fill="#333" stroke="#333" stroke-width="0.15" >20</text>
<line x1="411.10" y1="45.90" x2="413.90" y2="45.90" stroke="#333" stroke-width="1.0"/>
<text x="408.00" y="47.60" font-size="5.6" text-anchor="end" fill="#333" stroke="#333" stroke-width="0.15" >15</text>
<line x1="411.10" y1="62.30" x2="413.90" y2="62.30" stroke="#333" stroke-width="1.0"/>
<text x="408.00" y="64.00" font-size="5.6" text-anchor="end" fill="#333" stroke="#333" stroke-width="0.15" >10</text>
<line x1="411.10" y1="78.80" x2="413.90" y2="78.80" stroke="#333" stroke-width="1.0"/>
<text x="408.00" y="80.50" font-size="5.6" text-anchor="end" fill="#333" stroke="#333" stroke-width="0.15" >5</text>
<line x1="411.10" y1="95.00" x2="413.90" y2="95.00" stroke="#333" stroke-width="1.0"/>
<text x="408.00" y="96.70" font-size="5.6" text-anchor="end" fill="#333" stroke="#333" stroke-width="0.15" >0</text>
<line x1="428.80" y1="95.00" x2="428.80" y2="98.20" stroke="#333" stroke-width="1.0"/>
<line x1="451.83" y1="95.00" x2="451.83" y2="98.20" stroke="#333" stroke-width="1.0"/>
<rect x="450.73" y="82.70" width="2.2" height="2.2" fill="#333"/>
<rect x="448.73" y="87.10" width="2.2" height="2.2" fill="#333"/>
<rect x="452.73" y="87.10" width="2.2" height="2.2" fill="#333"/>
<rect x="456.73" y="91.70" width="2.2" height="2.2" fill="#333"/>
<line x1="451.83" y1="86.90" x2="451.83" y2="95.00" stroke="#1a1a1a" stroke-width="1.1"/>
<line x1="447.93" y1="86.90" x2="455.73" y2="86.90" stroke="#1a1a1a" stroke-width="1.3"/>
<line x1="444.53" y1="91.20" x2="459.13" y2="91.20" stroke="#1a1a1a" stroke-width="1.4"/>
<line x1="474.87" y1="95.00" x2="474.87" y2="98.20" stroke="#333" stroke-width="1.0"/>
<rect x="473.77" y="45.90" width="2.2" height="2.2" fill="#333"/>
<rect x="473.77" y="91.70" width="2.2" height="2.2" fill="#333"/>
<line x1="474.87" y1="69.40" x2="474.87" y2="95.00" stroke="#1a1a1a" stroke-width="1.1"/>
<line x1="470.97" y1="69.40" x2="478.77" y2="69.40" stroke="#1a1a1a" stroke-width="1.3"/>
<line x1="467.57" y1="87.90" x2="482.17" y2="87.90" stroke="#1a1a1a" stroke-width="1.4"/>
<line x1="497.90" y1="95.00" x2="497.90" y2="98.20" stroke="#333" stroke-width="1.0"/>
<path d="M497.90 80.10L499.30 77.60L496.50 77.60Z" fill="#333"/>
<path d="M495.90 93.90L497.30 91.40L494.50 91.40Z" fill="#333"/>
<path d="M499.90 93.90L501.30 91.40L498.50 91.40Z" fill="#333"/>
<line x1="497.90" y1="86.60" x2="497.90" y2="95.00" stroke="#1a1a1a" stroke-width="1.1"/>
<line x1="494.00" y1="86.60" x2="501.80" y2="86.60" stroke="#1a1a1a" stroke-width="1.3"/>
<line x1="490.60" y1="92.40" x2="505.20" y2="92.40" stroke="#1a1a1a" stroke-width="1.4"/>
<text x="427.80" y="106.00" font-size="5.1" text-anchor="middle" fill="#1a1a1a" stroke="#1a1a1a" stroke-width="0.2" >Unstimulated</text>
<text x="427.80" y="112.60" font-size="5.1" text-anchor="middle" fill="#1a1a1a" stroke="#1a1a1a" stroke-width="0.2" >Healthy</text>
<text x="451.80" y="106.00" font-size="5.1" text-anchor="middle" fill="#1a1a1a" stroke="#1a1a1a" stroke-width="0.2" >K562</text>
<text x="451.80" y="112.60" font-size="5.1" text-anchor="middle" fill="#1a1a1a" stroke="#1a1a1a" stroke-width="0.2" >Healthy</text>
<text x="476.60" y="106.00" font-size="5.1" text-anchor="middle" fill="#1a1a1a" stroke="#1a1a1a" stroke-width="0.2" >Unstimulated</text>
<text x="476.60" y="112.60" font-size="5.1" text-anchor="middle" fill="#1a1a1a" stroke="#1a1a1a" stroke-width="0.2" >BL</text>
<text x="500.70" y="106.00" font-size="5.1" text-anchor="middle" fill="#1a1a1a" stroke="#1a1a1a" stroke-width="0.2" >K562</text>
<text x="500.70" y="112.60" font-size="5.1" text-anchor="middle" fill="#1a1a1a" stroke="#1a1a1a" stroke-width="0.2" >BL</text>
<line x1="422.60" y1="94.20" x2="434.80" y2="94.20" stroke="#667" stroke-width="1.3"/>
<line x1="286.50" y1="117.10" x2="286.50" y2="186.80" stroke="#1a1a1a" stroke-width="1.4"/>
<line x1="285.90" y1="186.20" x2="385.60" y2="186.20" stroke="#1a1a1a" stroke-width="1.4"/>
<line x1="283.70" y1="120.30" x2="286.50" y2="120.30" stroke="#333" stroke-width="1.0"/>
<text x="280.60" y="122.00" font-size="5.6" text-anchor="end" fill="#333" stroke="#333" stroke-width="0.15" >15</text>
<line x1="283.70" y1="142.00" x2="286.50" y2="142.00" stroke="#333" stroke-width="1.0"/>
<text x="280.60" y="143.70" font-size="5.6" text-anchor="end" fill="#333" stroke="#333" stroke-width="0.15" >10</text>
<line x1="283.70" y1="164.20" x2="286.50" y2="164.20" stroke="#333" stroke-width="1.0"/>
<text x="280.60" y="165.90" font-size="5.6" text-anchor="end" fill="#333" stroke="#333" stroke-width="0.15" >5</text>
<line x1="283.70" y1="186.20" x2="286.50" y2="186.20" stroke="#333" stroke-width="1.0"/>
<text x="280.60" y="187.90" font-size="5.6" text-anchor="end" fill="#333" stroke="#333" stroke-width="0.15" >0</text>
<line x1="301.40" y1="186.20" x2="301.40" y2="189.40" stroke="#333" stroke-width="1.0"/>
<rect x="300.30" y="169.90" width="2.2" height="2.2" fill="#333"/>
<rect x="296.90" y="178.10" width="2.2" height="2.2" fill="#333"/>
<rect x="302.90" y="178.10" width="2.2" height="2.2" fill="#333"/>
<rect x="301.90" y="181.20" width="2.2" height="2.2" fill="#333"/>
<rect x="297.90" y="180.90" width="2.2" height="2.2" fill="#333"/>
<line x1="301.40" y1="173.80" x2="301.40" y2="182.30" stroke="#1a1a1a" stroke-width="1.1"/>
<line x1="297.50" y1="173.80" x2="305.30" y2="173.80" stroke="#1a1a1a" stroke-width="1.3"/>
<line x1="297.50" y1="182.30" x2="305.30" y2="182.30" stroke="#1a1a1a" stroke-width="1.3"/>
<line x1="294.10" y1="177.90" x2="308.70" y2="177.90" stroke="#1a1a1a" stroke-width="1.4"/>
<line x1="324.50" y1="186.20" x2="324.50" y2="189.40" stroke="#333" stroke-width="1.0"/>
<rect x="323.40" y="145.50" width="2.2" height="2.2" fill="#333"/>
<rect x="326.10" y="159.10" width="2.2" height="2.2" fill="#333"/>
<rect x="322.10" y="161.30" width="2.2" height="2.2" fill="#333"/>
<rect x="321.10" y="166.30" width="2.2" height="2.2" fill="#333"/>
<rect x="326.10" y="166.30" width="2.2" height="2.2" fill="#333"/>
<line x1="324.50" y1="140.30" x2="324.50" y2="174.30" stroke="#1a1a1a" stroke-width="1.1"/>
<line x1="320.60" y1="140.30" x2="328.40" y2="140.30" stroke="#1a1a1a" stroke-width="1.3"/>
<line x1="320.60" y1="174.30" x2="328.40" y2="174.30" stroke="#1a1a1a" stroke-width="1.3"/>
<line x1="317.20" y1="157.50" x2="331.80" y2="157.50" stroke="#1a1a1a" stroke-width="1.4"/>
<line x1="347.60" y1="186.20" x2="347.60" y2="189.40" stroke="#333" stroke-width="1.0"/>
<path d="M347.60 150.70L349.00 153.20L346.20 153.20Z" fill="#333"/>
<path d="M345.80 177.80L347.20 180.30L344.40 180.30Z" fill="#333"/>
<path d="M349.80 177.80L351.20 180.30L348.40 180.30Z" fill="#333"/>
<path d="M344.80 182.60L346.20 185.10L343.40 185.10Z" fill="#333"/>
<path d="M350.80 182.60L352.20 185.10L349.40 185.10Z" fill="#333"/>
<line x1="347.60" y1="158.40" x2="347.60" y2="184.60" stroke="#1a1a1a" stroke-width="1.1"/>
<line x1="343.70" y1="158.40" x2="351.50" y2="158.40" stroke="#1a1a1a" stroke-width="1.3"/>
<line x1="343.70" y1="184.60" x2="351.50" y2="184.60" stroke="#1a1a1a" stroke-width="1.3"/>
<line x1="340.30" y1="171.60" x2="354.90" y2="171.60" stroke="#1a1a1a" stroke-width="1.4"/>
<line x1="370.70" y1="186.20" x2="370.70" y2="189.40" stroke="#333" stroke-width="1.0"/>
<path d="M370.70 139.90L372.10 137.40L369.30 137.40Z" fill="#333"/>
<path d="M367.00 176.10L368.40 173.60L365.60 173.60Z" fill="#333"/>
<path d="M374.00 175.70L375.40 173.20L372.60 173.20Z" fill="#333"/>
<path d="M371.00 169.70L372.40 167.20L369.60 167.20Z" fill="#333"/>
<line x1="370.70" y1="155.10" x2="370.70" y2="184.60" stroke="#1a1a1a" stroke-width="1.1"/>
<line x1="366.80" y1="155.10" x2="374.60" y2="155.10" stroke="#1a1a1a" stroke-width="1.3"/>
<line x1="366.80" y1="184.60" x2="374.60" y2="184.60" stroke="#1a1a1a" stroke-width="1.3"/>
<line x1="363.40" y1="169.80" x2="378.00" y2="169.80" stroke="#1a1a1a" stroke-width="1.4"/>
<text x="300.40" y="197.00" font-size="5.1" text-anchor="middle" fill="#1a1a1a" stroke="#1a1a1a" stroke-width="0.2" >Unstimulated</text>
<text x="300.40" y="203.60" font-size="5.1" text-anchor="middle" fill="#1a1a1a" stroke="#1a1a1a" stroke-width="0.2" >Healthy</text>
<text x="324.30" y="197.00" font-size="5.1" text-anchor="middle" fill="#1a1a1a" stroke="#1a1a1a" stroke-width="0.2" >K562</text>
<text x="324.30" y="203.60" font-size="5.1" text-anchor="middle" fill="#1a1a1a" stroke="#1a1a1a" stroke-width="0.2" >Healthy</text>
<text x="351.40" y="197.00" font-size="5.1" text-anchor="middle" fill="#1a1a1a" stroke="#1a1a1a" stroke-width="0.2" >Unstimulated</text>
<text x="351.40" y="203.60" font-size="5.1" text-anchor="middle" fill="#1a1a1a" stroke="#1a1a1a" stroke-width="0.2" >BL</text>
<text x="375.00" y="197.00" font-size="5.1" text-anchor="middle" fill="#1a1a1a" stroke="#1a1a1a" stroke-width="0.2" >K562</text>
<text x="375.00" y="203.60" font-size="5.1" text-anchor="middle" fill="#1a1a1a" stroke="#1a1a1a" stroke-width="0.2" >BL</text>
<line x1="304.00" y1="133.10" x2="324.60" y2="133.10" stroke="#1a1a1a" stroke-width="1.2"/>
<rect x="313.90" y="130.40" width="1.0" height="2.0" fill="#555"/>
<line x1="324.30" y1="128.40" x2="367.60" y2="128.40" stroke="#1a1a1a" stroke-width="1.2"/>
<rect x="346.70" y="125.70" width="1.0" height="2.0" fill="#555"/>
<circle cx="324.6" cy="123.8" r="1.45" fill="#222"/>
<line x1="413.90" y1="117.30" x2="413.90" y2="186.80" stroke="#1a1a1a" stroke-width="1.4"/>
<line x1="413.30" y1="186.20" x2="512.60" y2="186.20" stroke="#1a1a1a" stroke-width="1.4"/>
<line x1="411.10" y1="120.50" x2="413.90" y2="120.50" stroke="#333" stroke-width="1.0"/>
<text x="408.00" y="122.20" font-size="5.6" text-anchor="end" fill="#333" stroke="#333" stroke-width="0.15" >1.5</text>
<line x1="411.10" y1="142.00" x2="413.90" y2="142.00" stroke="#333" stroke-width="1.0"/>
<text x="408.00" y="143.70" font-size="5.6" text-anchor="end" fill="#333" stroke="#333" stroke-width="0.15" >1.0</text>
<line x1="411.10" y1="164.20" x2="413.90" y2="164.20" stroke="#333" stroke-width="1.0"/>
<text x="408.00" y="165.90" font-size="5.6" text-anchor="end" fill="#333" stroke="#333" stroke-width="0.15" >0.5</text>
<line x1="411.10" y1="186.20" x2="413.90" y2="186.20" stroke="#333" stroke-width="1.0"/>
<text x="408.00" y="187.90" font-size="5.6" text-anchor="end" fill="#333" stroke="#333" stroke-width="0.15" >0.0</text>
<line x1="428.80" y1="186.20" x2="428.80" y2="189.40" stroke="#333" stroke-width="1.0"/>
<path d="M428.80 178.20L430.20 180.70L427.40 180.70Z" fill="#333"/>
<path d="M427.20 180.40L428.60 182.90L425.80 182.90Z" fill="#333"/>
<path d="M430.40 180.40L431.80 182.90L429.00 182.90Z" fill="#333"/>
<path d="M424.30 181.80L425.70 184.30L422.90 184.30Z" fill="#333"/>
<path d="M433.30 181.80L434.70 184.30L431.90 184.30Z" fill="#333"/>
<path d="M428.80 181.80L430.20 184.30L427.40 184.30Z" fill="#333"/>
<path d="M427.30 183.80L428.70 186.30L425.90 186.30Z" fill="#333"/>
<path d="M430.30 183.80L431.70 186.30L428.90 186.30Z" fill="#333"/>
<line x1="421.50" y1="183.80" x2="436.10" y2="183.80" stroke="#1a1a1a" stroke-width="1.4"/>
<line x1="451.77" y1="186.20" x2="451.77" y2="189.40" stroke="#333" stroke-width="1.0"/>
<rect x="450.67" y="135.90" width="2.2" height="2.2" fill="#333"/>
<rect x="447.87" y="151.00" width="2.2" height="2.2" fill="#333"/>
<rect x="453.87" y="154.00" width="2.2" height="2.2" fill="#333"/>
<rect x="449.87" y="170.30" width="2.2" height="2.2" fill="#333"/>
<rect x="451.87" y="176.80" width="2.2" height="2.2" fill="#333"/>
<rect x="450.67" y="183.50" width="2.2" height="2.2" fill="#333"/>
<line x1="451.77" y1="147.50" x2="451.77" y2="182.30" stroke="#1a1a1a" stroke-width="1.1"/>
<line x1="447.87" y1="147.50" x2="455.67" y2="147.50" stroke="#1a1a1a" stroke-width="1.3"/>
<line x1="447.87" y1="182.30" x2="455.67" y2="182.30" stroke="#1a1a1a" stroke-width="1.3"/>
<line x1="444.47" y1="165.30" x2="459.07" y2="165.30" stroke="#1a1a1a" stroke-width="1.4"/>
<line x1="474.73" y1="186.20" x2="474.73" y2="189.40" stroke="#333" stroke-width="1.0"/>
<path d="M472.23 167.30L473.63 169.80L470.83 169.80Z" fill="#333"/>
<path d="M476.73 168.40L478.13 170.90L475.33 170.90Z" fill="#333"/>
<path d="M469.73 182.00L471.13 184.50L468.33 184.50Z" fill="#333"/>
<path d="M473.73 182.00L475.13 184.50L472.33 184.50Z" fill="#333"/>
<path d="M480.73 182.00L482.13 184.50L479.33 184.50Z" fill="#333"/>
<line x1="474.73" y1="172.50" x2="474.73" y2="186.20" stroke="#1a1a1a" stroke-width="1.1"/>
<line x1="470.83" y1="172.50" x2="478.63" y2="172.50" stroke="#1a1a1a" stroke-width="1.3"/>
<line x1="467.43" y1="179.70" x2="482.03" y2="179.70" stroke="#1a1a1a" stroke-width="1.4"/>
<line x1="497.70" y1="186.20" x2="497.70" y2="189.40" stroke="#333" stroke-width="1.0"/>
<path d="M497.70 160.30L499.10 157.80L496.30 157.80Z" fill="#333"/>
<path d="M496.10 176.10L497.50 173.60L494.70 173.60Z" fill="#333"/>
<path d="M499.10 176.10L500.50 173.60L497.70 173.60Z" fill="#333"/>
<path d="M493.10 185.10L494.50 182.60L491.70 182.60Z" fill="#333"/>
<path d="M502.10 185.10L503.50 182.60L500.70 182.60Z" fill="#333"/>
<line x1="497.70" y1="168.90" x2="497.70" y2="186.20" stroke="#1a1a1a" stroke-width="1.1"/>
<line x1="493.80" y1="168.90" x2="501.60" y2="168.90" stroke="#1a1a1a" stroke-width="1.3"/>
<line x1="490.40" y1="178.70" x2="505.00" y2="178.70" stroke="#1a1a1a" stroke-width="1.4"/>
<text x="427.80" y="197.00" font-size="5.1" text-anchor="middle" fill="#1a1a1a" stroke="#1a1a1a" stroke-width="0.2" >Unstimulated</text>
<text x="427.80" y="203.60" font-size="5.1" text-anchor="middle" fill="#1a1a1a" stroke="#1a1a1a" stroke-width="0.2" >Healthy</text>
<text x="451.80" y="197.00" font-size="5.1" text-anchor="middle" fill="#1a1a1a" stroke="#1a1a1a" stroke-width="0.2" >K562</text>
<text x="451.80" y="203.60" font-size="5.1" text-anchor="middle" fill="#1a1a1a" stroke="#1a1a1a" stroke-width="0.2" >Healthy</text>
<text x="476.60" y="197.00" font-size="5.1" text-anchor="middle" fill="#1a1a1a" stroke="#1a1a1a" stroke-width="0.2" >Unstimulated</text>
<text x="476.60" y="203.60" font-size="5.1" text-anchor="middle" fill="#1a1a1a" stroke="#1a1a1a" stroke-width="0.2" >BL</text>
<text x="500.70" y="197.00" font-size="5.1" text-anchor="middle" fill="#1a1a1a" stroke="#1a1a1a" stroke-width="0.2" >K562</text>
<text x="500.70" y="203.60" font-size="5.1" text-anchor="middle" fill="#1a1a1a" stroke="#1a1a1a" stroke-width="0.2" >BL</text>
<line x1="430.10" y1="128.60" x2="450.30" y2="128.60" stroke="#1a1a1a" stroke-width="1.2"/>
<rect x="439.90" y="125.90" width="1.0" height="2.0" fill="#555"/>
<line x1="413.90" y1="208.00" x2="413.90" y2="277.60" stroke="#1a1a1a" stroke-width="1.4"/>
<line x1="413.30" y1="277.00" x2="512.60" y2="277.00" stroke="#1a1a1a" stroke-width="1.4"/>
<line x1="411.10" y1="211.20" x2="413.90" y2="211.20" stroke="#333" stroke-width="1.0"/>
<text x="408.00" y="212.90" font-size="5.6" text-anchor="end" fill="#333" stroke="#333" stroke-width="0.15" >2.0</text>
<line x1="411.10" y1="227.50" x2="413.90" y2="227.50" stroke="#333" stroke-width="1.0"/>
<text x="408.00" y="229.20" font-size="5.6" text-anchor="end" fill="#333" stroke="#333" stroke-width="0.15" >1.5</text>
<line x1="411.10" y1="244.20" x2="413.90" y2="244.20" stroke="#333" stroke-width="1.0"/>
<text x="408.00" y="245.90" font-size="5.6" text-anchor="end" fill="#333" stroke="#333" stroke-width="0.15" >1.0</text>
<line x1="411.10" y1="260.50" x2="413.90" y2="260.50" stroke="#333" stroke-width="1.0"/>
<text x="408.00" y="262.20" font-size="5.6" text-anchor="end" fill="#333" stroke="#333" stroke-width="0.15" >0.5</text>
<line x1="411.10" y1="277.00" x2="413.90" y2="277.00" stroke="#333" stroke-width="1.0"/>
<text x="408.00" y="278.70" font-size="5.6" text-anchor="end" fill="#333" stroke="#333" stroke-width="0.15" >0.0</text>
<line x1="428.80" y1="277.00" x2="428.80" y2="280.20" stroke="#333" stroke-width="1.0"/>
<rect x="427.70" y="247.80" width="2.2" height="2.2" fill="#333"/>
<rect x="429.50" y="270.40" width="2.2" height="2.2" fill="#333"/>
<rect x="424.50" y="275.40" width="2.2" height="2.2" fill="#333"/>
<rect x="430.50" y="275.40" width="2.2" height="2.2" fill="#333"/>
<line x1="428.80" y1="258.90" x2="428.80" y2="277.00" stroke="#1a1a1a" stroke-width="1.1"/>
<line x1="424.90" y1="258.90" x2="432.70" y2="258.90" stroke="#1a1a1a" stroke-width="1.3"/>
<line x1="421.50" y1="269.20" x2="436.10" y2="269.20" stroke="#1a1a1a" stroke-width="1.4"/>
<line x1="451.77" y1="277.00" x2="451.77" y2="280.20" stroke="#333" stroke-width="1.0"/>
<rect x="450.67" y="225.20" width="2.2" height="2.2" fill="#333"/>
<rect x="448.67" y="270.80" width="2.2" height="2.2" fill="#333"/>
<rect x="456.67" y="272.30" width="2.2" height="2.2" fill="#333"/>
<rect x="445.67" y="275.40" width="2.2" height="2.2" fill="#333"/>
<rect x="450.67" y="275.40" width="2.2" height="2.2" fill="#333"/>
<line x1="451.77" y1="248.90" x2="451.77" y2="277.00" stroke="#1a1a1a" stroke-width="1.1"/>
<line x1="447.87" y1="248.90" x2="455.67" y2="248.90" stroke="#1a1a1a" stroke-width="1.3"/>
<line x1="444.47" y1="267.40" x2="459.07" y2="267.40" stroke="#1a1a1a" stroke-width="1.4"/>
<line x1="474.73" y1="277.00" x2="474.73" y2="280.20" stroke="#333" stroke-width="1.0"/>
<path d="M474.73 241.60L476.13 244.10L473.33 244.10Z" fill="#333"/>
<path d="M469.73 273.20L471.13 275.70L468.33 275.70Z" fill="#333"/>
<path d="M474.73 273.20L476.13 275.70L473.33 275.70Z" fill="#333"/>
<path d="M479.73 273.20L481.13 275.70L478.33 275.70Z" fill="#333"/>
<line x1="474.73" y1="258.00" x2="474.73" y2="277.00" stroke="#1a1a1a" stroke-width="1.1"/>
<line x1="470.83" y1="258.00" x2="478.63" y2="258.00" stroke="#1a1a1a" stroke-width="1.3"/>
<line x1="467.43" y1="270.50" x2="482.03" y2="270.50" stroke="#1a1a1a" stroke-width="1.4"/>
<line x1="497.70" y1="277.00" x2="497.70" y2="280.20" stroke="#333" stroke-width="1.0"/>
<path d="M497.70 267.90L499.10 265.40L496.30 265.40Z" fill="#333"/>
<path d="M493.70 275.40L495.10 272.90L492.30 272.90Z" fill="#333"/>
<path d="M501.70 275.40L503.10 272.90L500.30 272.90Z" fill="#333"/>
<line x1="497.70" y1="269.20" x2="497.70" y2="277.00" stroke="#1a1a1a" stroke-width="1.1"/>
<line x1="493.80" y1="269.20" x2="501.60" y2="269.20" stroke="#1a1a1a" stroke-width="1.3"/>
<line x1="490.40" y1="274.10" x2="505.00" y2="274.10" stroke="#1a1a1a" stroke-width="1.4"/>
<text x="427.80" y="288.00" font-size="5.1" text-anchor="middle" fill="#1a1a1a" stroke="#1a1a1a" stroke-width="0.2" >Unstimulated</text>
<text x="427.80" y="294.60" font-size="5.1" text-anchor="middle" fill="#1a1a1a" stroke="#1a1a1a" stroke-width="0.2" >Healthy</text>
<text x="451.80" y="288.00" font-size="5.1" text-anchor="middle" fill="#1a1a1a" stroke="#1a1a1a" stroke-width="0.2" >K562</text>
<text x="451.80" y="294.60" font-size="5.1" text-anchor="middle" fill="#1a1a1a" stroke="#1a1a1a" stroke-width="0.2" >Healthy</text>
<text x="476.60" y="288.00" font-size="5.1" text-anchor="middle" fill="#1a1a1a" stroke="#1a1a1a" stroke-width="0.2" >Unstimulated</text>
<text x="476.60" y="294.60" font-size="5.1" text-anchor="middle" fill="#1a1a1a" stroke="#1a1a1a" stroke-width="0.2" >BL</text>
<text x="500.70" y="288.00" font-size="5.1" text-anchor="middle" fill="#1a1a1a" stroke="#1a1a1a" stroke-width="0.2" >K562</text>
<text x="500.70" y="294.60" font-size="5.1" text-anchor="middle" fill="#1a1a1a" stroke="#1a1a1a" stroke-width="0.2" >BL</text>
<line x1="35.70" y1="328.20" x2="35.70" y2="391.20" stroke="#1a1a1a" stroke-width="1.4"/>
<line x1="35.10" y1="390.60" x2="129.80" y2="390.60" stroke="#1a1a1a" stroke-width="1.4"/>
<line x1="32.90" y1="331.40" x2="35.70" y2="331.40" stroke="#333" stroke-width="1.0"/>
<text x="29.80" y="333.10" font-size="5.6" text-anchor="end" fill="#333" stroke="#333" stroke-width="0.15" >80</text>
<line x1="32.90" y1="346.20" x2="35.70" y2="346.20" stroke="#333" stroke-width="1.0"/>
<text x="29.80" y="347.90" font-size="5.6" text-anchor="end" fill="#333" stroke="#333" stroke-width="0.15" >60</text>
<line x1="32.90" y1="361.00" x2="35.70" y2="361.00" stroke="#333" stroke-width="1.0"/>
<text x="29.80" y="362.70" font-size="5.6" text-anchor="end" fill="#333" stroke="#333" stroke-width="0.15" >40</text>
<line x1="32.90" y1="375.80" x2="35.70" y2="375.80" stroke="#333" stroke-width="1.0"/>
<text x="29.80" y="377.50" font-size="5.6" text-anchor="end" fill="#333" stroke="#333" stroke-width="0.15" >20</text>
<line x1="32.90" y1="390.60" x2="35.70" y2="390.60" stroke="#333" stroke-width="1.0"/>
<text x="29.80" y="392.30" font-size="5.6" text-anchor="end" fill="#333" stroke="#333" stroke-width="0.15" >0</text>
<line x1="50.50" y1="390.60" x2="50.50" y2="393.80" stroke="#333" stroke-width="1.0"/>
<circle cx="46.20" cy="357.60" r="1.2" fill="#333"/>
<circle cx="54.90" cy="357.00" r="1.2" fill="#333"/>
<circle cx="48.50" cy="373.80" r="1.2" fill="#333"/>
<circle cx="52.00" cy="375.40" r="1.2" fill="#333"/>
<circle cx="50.50" cy="389.00" r="1.2" fill="#333"/>
<line x1="50.50" y1="357.00" x2="50.50" y2="380.00" stroke="#1a1a1a" stroke-width="1.1"/>
<line x1="46.60" y1="357.00" x2="54.40" y2="357.00" stroke="#1a1a1a" stroke-width="1.3"/>
<line x1="46.60" y1="380.00" x2="54.40" y2="380.00" stroke="#1a1a1a" stroke-width="1.3"/>
<line x1="43.20" y1="368.50" x2="57.80" y2="368.50" stroke="#1a1a1a" stroke-width="1.4"/>
<line x1="71.40" y1="390.60" x2="71.40" y2="393.80" stroke="#333" stroke-width="1.0"/>
<circle cx="69.00" cy="355.40" r="1.2" fill="#333"/>
<circle cx="74.00" cy="354.20" r="1.2" fill="#333"/>
<circle cx="71.40" cy="368.00" r="1.2" fill="#333"/>
<circle cx="71.40" cy="373.00" r="1.2" fill="#333"/>
<circle cx="71.40" cy="378.00" r="1.2" fill="#333"/>
<circle cx="71.40" cy="389.00" r="1.2" fill="#333"/>
<line x1="71.40" y1="357.00" x2="71.40" y2="381.50" stroke="#1a1a1a" stroke-width="1.1"/>
<line x1="67.50" y1="357.00" x2="75.30" y2="357.00" stroke="#1a1a1a" stroke-width="1.3"/>
<line x1="67.50" y1="381.50" x2="75.30" y2="381.50" stroke="#1a1a1a" stroke-width="1.3"/>
<line x1="64.10" y1="369.70" x2="78.70" y2="369.70" stroke="#1a1a1a" stroke-width="1.4"/>
<line x1="93.20" y1="390.60" x2="93.20" y2="393.80" stroke="#333" stroke-width="1.0"/>
<circle cx="93.20" cy="343.90" r="1.2" fill="#333"/>
<circle cx="90.00" cy="361.30" r="1.2" fill="#333"/>
<circle cx="97.00" cy="363.00" r="1.2" fill="#333"/>
<circle cx="93.20" cy="382.30" r="1.2" fill="#333"/>
<line x1="93.20" y1="349.50" x2="93.20" y2="374.40" stroke="#1a1a1a" stroke-width="1.1"/>
<line x1="89.30" y1="349.50" x2="97.10" y2="349.50" stroke="#1a1a1a" stroke-width="1.3"/>
<line x1="89.30" y1="374.40" x2="97.10" y2="374.40" stroke="#1a1a1a" stroke-width="1.3"/>
<line x1="85.90" y1="362.10" x2="100.50" y2="362.10" stroke="#1a1a1a" stroke-width="1.4"/>
<line x1="114.60" y1="390.60" x2="114.60" y2="393.80" stroke="#333" stroke-width="1.0"/>
<circle cx="112.00" cy="346.60" r="1.2" fill="#333"/>
<circle cx="117.00" cy="345.20" r="1.2" fill="#333"/>
<circle cx="114.60" cy="354.50" r="1.2" fill="#333"/>
<circle cx="112.00" cy="373.90" r="1.2" fill="#333"/>
<circle cx="117.00" cy="374.00" r="1.2" fill="#333"/>
<circle cx="114.60" cy="382.30" r="1.2" fill="#333"/>
<line x1="114.60" y1="347.40" x2="114.60" y2="377.30" stroke="#1a1a1a" stroke-width="1.1"/>
<line x1="110.70" y1="347.40" x2="118.50" y2="347.40" stroke="#1a1a1a" stroke-width="1.3"/>
<line x1="110.70" y1="377.30" x2="118.50" y2="377.30" stroke="#1a1a1a" stroke-width="1.3"/>
<line x1="107.30" y1="362.40" x2="121.90" y2="362.40" stroke="#1a1a1a" stroke-width="1.4"/>
<text x="37.40" y="400.60" font-size="5.2" text-anchor="start" fill="#1e1e1e" stroke="#1e1e1e" stroke-width="0.2" >CD56<tspan font-size="3.3" dx="0.4" dy="-2.3">dim</tspan></text>
<text x="37.40" y="407.30" font-size="5.2" text-anchor="start" fill="#1e1e1e" stroke="#1e1e1e" stroke-width="0.2" >CD16<tspan font-size="3.3" dx="0.4" dy="-2.3">pos</tspan></text>
<text x="60.80" y="400.60" font-size="5.2" text-anchor="start" fill="#1e1e1e" stroke="#1e1e1e" stroke-width="0.2" >CD56<tspan font-size="3.3" dx="0.4" dy="-2.3">neg</tspan></text>
<text x="60.80" y="407.30" font-size="5.2" text-anchor="start" fill="#1e1e1e" stroke="#1e1e1e" stroke-width="0.2" >CD16<tspan font-size="3.3" dx="0.4" dy="-2.3">pos</tspan></text>
<text x="84.30" y="400.60" font-size="5.2" text-anchor="start" fill="#1e1e1e" stroke="#1e1e1e" stroke-width="0.2" >CD56<tspan font-size="3.3" dx="0.4" dy="-2.3">dim</tspan></text>
<text x="84.30" y="407.30" font-size="5.2" text-anchor="start" fill="#1e1e1e" stroke="#1e1e1e" stroke-width="0.2" >CD16<tspan font-size="3.3" dx="0.4" dy="-2.3">pos</tspan></text>
<text x="108.00" y="400.60" font-size="5.2" text-anchor="start" fill="#1e1e1e" stroke="#1e1e1e" stroke-width="0.2" >CD56<tspan font-size="3.3" dx="0.4" dy="-2.3">neg</tspan></text>
<text x="108.00" y="407.30" font-size="5.2" text-anchor="start" fill="#1e1e1e" stroke="#1e1e1e" stroke-width="0.2" >CD16<tspan font-size="3.3" dx="0.4" dy="-2.3">pos</tspan></text>
<text x="58.20" y="322.20" font-size="5.6" text-anchor="middle" fill="#1e1e1e" stroke="#1e1e1e" stroke-width="0.15" >K562</text>
<text x="58.20" y="328.20" font-size="5.4" text-anchor="middle" fill="#1e1e1e" stroke="#1e1e1e" stroke-width="0.15" >Healthy</text>
<text x="98.10" y="322.20" font-size="5.6" text-anchor="middle" fill="#1e1e1e" stroke="#1e1e1e" stroke-width="0.15" >K562</text>
<text x="98.10" y="328.20" font-size="5.4" text-anchor="middle" fill="#1e1e1e" stroke="#1e1e1e" stroke-width="0.15" >BL</text>
<text x="0" y="0" font-size="6.0" fill="#1e1e1e" stroke="#1e1e1e" stroke-width="0.2" text-anchor="middle" transform="translate(16.9,359.2) rotate(-90) scale(0.914,1)">% MIP-1β<tspan font-size="3.6" dy="-2.2">+</tspan><tspan dy="2.2"> cells</tspan></text>
<line x1="158.40" y1="328.30" x2="158.40" y2="391.20" stroke="#1a1a1a" stroke-width="1.4"/>
<line x1="157.80" y1="390.60" x2="251.90" y2="390.60" stroke="#1a1a1a" stroke-width="1.4"/>
<line x1="155.60" y1="331.50" x2="158.40" y2="331.50" stroke="#333" stroke-width="1.0"/>
<text x="152.50" y="333.20" font-size="5.6" text-anchor="end" fill="#333" stroke="#333" stroke-width="0.15" >2.0</text>
<line x1="155.60" y1="346.20" x2="158.40" y2="346.20" stroke="#333" stroke-width="1.0"/>
<text x="152.50" y="347.90" font-size="5.6" text-anchor="end" fill="#333" stroke="#333" stroke-width="0.15" >1.5</text>
<line x1="155.60" y1="360.80" x2="158.40" y2="360.80" stroke="#333" stroke-width="1.0"/>
<text x="152.50" y="362.50" font-size="5.6" text-anchor="end" fill="#333" stroke="#333" stroke-width="0.15" >1.0</text>
<line x1="155.60" y1="376.00" x2="158.40" y2="376.00" stroke="#333" stroke-width="1.0"/>
<text x="152.50" y="377.70" font-size="5.6" text-anchor="end" fill="#333" stroke="#333" stroke-width="0.15" >0.5</text>
<line x1="155.60" y1="390.60" x2="158.40" y2="390.60" stroke="#333" stroke-width="1.0"/>
<text x="152.50" y="392.30" font-size="5.6" text-anchor="end" fill="#333" stroke="#333" stroke-width="0.15" >0.0</text>
<line x1="173.00" y1="390.60" x2="173.00" y2="393.80" stroke="#333" stroke-width="1.0"/>
<circle cx="173.00" cy="357.50" r="1.2" fill="#333"/>
<circle cx="172.00" cy="367.20" r="1.2" fill="#333"/>
<circle cx="175.00" cy="370.90" r="1.2" fill="#333"/>
<circle cx="174.00" cy="379.80" r="1.2" fill="#333"/>
<circle cx="171.00" cy="383.70" r="1.2" fill="#333"/>
<circle cx="175.00" cy="383.70" r="1.2" fill="#333"/>
<line x1="173.00" y1="365.10" x2="173.00" y2="388.20" stroke="#1a1a1a" stroke-width="1.1"/>
<line x1="169.10" y1="365.10" x2="176.90" y2="365.10" stroke="#1a1a1a" stroke-width="1.3"/>
<line x1="169.10" y1="388.20" x2="176.90" y2="388.20" stroke="#1a1a1a" stroke-width="1.3"/>
<line x1="165.70" y1="376.40" x2="180.30" y2="376.40" stroke="#1a1a1a" stroke-width="1.4"/>
<line x1="194.40" y1="390.60" x2="194.40" y2="393.80" stroke="#333" stroke-width="1.0"/>
<circle cx="194.40" cy="344.90" r="1.2" fill="#333"/>
<circle cx="192.00" cy="384.40" r="1.2" fill="#333"/>
<circle cx="200.00" cy="387.40" r="1.2" fill="#333"/>
<circle cx="194.40" cy="389.00" r="1.2" fill="#333"/>
<line x1="194.40" y1="365.50" x2="194.40" y2="390.60" stroke="#1a1a1a" stroke-width="1.1"/>
<line x1="190.50" y1="365.50" x2="198.30" y2="365.50" stroke="#1a1a1a" stroke-width="1.3"/>
<line x1="187.10" y1="382.00" x2="201.70" y2="382.00" stroke="#1a1a1a" stroke-width="1.4"/>
<line x1="215.60" y1="390.60" x2="215.60" y2="393.80" stroke="#333" stroke-width="1.0"/>
<circle cx="215.60" cy="373.10" r="1.2" fill="#333"/>
<circle cx="214.00" cy="383.20" r="1.2" fill="#333"/>
<circle cx="217.00" cy="380.00" r="1.2" fill="#333"/>
<circle cx="210.00" cy="389.00" r="1.2" fill="#333"/>
<circle cx="221.00" cy="389.00" r="1.2" fill="#333"/>
<line x1="215.60" y1="379.00" x2="215.60" y2="390.60" stroke="#1a1a1a" stroke-width="1.1"/>
<line x1="211.70" y1="379.00" x2="219.50" y2="379.00" stroke="#1a1a1a" stroke-width="1.3"/>
<line x1="208.30" y1="385.40" x2="222.90" y2="385.40" stroke="#1a1a1a" stroke-width="1.4"/>
<line x1="236.70" y1="390.60" x2="236.70" y2="393.80" stroke="#333" stroke-width="1.0"/>
<circle cx="236.70" cy="382.00" r="1.2" fill="#333"/>
<circle cx="233.00" cy="386.00" r="1.2" fill="#333"/>
<circle cx="240.00" cy="386.00" r="1.2" fill="#333"/>
<line x1="236.70" y1="384.40" x2="236.70" y2="390.60" stroke="#1a1a1a" stroke-width="1.1"/>
<line x1="232.80" y1="384.40" x2="240.60" y2="384.40" stroke="#1a1a1a" stroke-width="1.3"/>
<line x1="229.40" y1="387.70" x2="244.00" y2="387.70" stroke="#1a1a1a" stroke-width="1.4"/>
<text x="160.40" y="400.60" font-size="5.2" text-anchor="start" fill="#1e1e1e" stroke="#1e1e1e" stroke-width="0.2" >CD56<tspan font-size="3.3" dx="0.4" dy="-2.3">dim</tspan></text>
<text x="160.40" y="407.30" font-size="5.2" text-anchor="start" fill="#1e1e1e" stroke="#1e1e1e" stroke-width="0.2" >CD16<tspan font-size="3.3" dx="0.4" dy="-2.3">pos</tspan></text>
<text x="183.80" y="400.60" font-size="5.2" text-anchor="start" fill="#1e1e1e" stroke="#1e1e1e" stroke-width="0.2" >CD56<tspan font-size="3.3" dx="0.4" dy="-2.3">neg</tspan></text>
<text x="183.80" y="407.30" font-size="5.2" text-anchor="start" fill="#1e1e1e" stroke="#1e1e1e" stroke-width="0.2" >CD16<tspan font-size="3.3" dx="0.4" dy="-2.3">pos</tspan></text>
<text x="207.30" y="400.60" font-size="5.2" text-anchor="start" fill="#1e1e1e" stroke="#1e1e1e" stroke-width="0.2" >CD56<tspan font-size="3.3" dx="0.4" dy="-2.3">dim</tspan></text>
<text x="207.30" y="407.30" font-size="5.2" text-anchor="start" fill="#1e1e1e" stroke="#1e1e1e" stroke-width="0.2" >CD16<tspan font-size="3.3" dx="0.4" dy="-2.3">pos</tspan></text>
<text x="230.40" y="400.60" font-size="5.2" text-anchor="start" fill="#1e1e1e" stroke="#1e1e1e" stroke-width="0.2" >CD56<tspan font-size="3.3" dx="0.4" dy="-2.3">neg</tspan></text>
<text x="230.40" y="407.30" font-size="5.2" text-anchor="start" fill="#1e1e1e" stroke="#1e1e1e" stroke-width="0.2" >CD16<tspan font-size="3.3" dx="0.4" dy="-2.3">pos</tspan></text>
<text x="181.80" y="322.20" font-size="5.6" text-anchor="middle" fill="#1e1e1e" stroke="#1e1e1e" stroke-width="0.15" >K562</text>
<text x="181.80" y="328.20" font-size="5.4" text-anchor="middle" fill="#1e1e1e" stroke="#1e1e1e" stroke-width="0.15" >Healthy</text>
<text x="221.50" y="322.20" font-size="5.6" text-anchor="middle" fill="#1e1e1e" stroke="#1e1e1e" stroke-width="0.15" >K562</text>
<text x="221.50" y="328.20" font-size="5.4" text-anchor="middle" fill="#1e1e1e" stroke="#1e1e1e" stroke-width="0.15" >BL</text>
<text x="0" y="0" font-size="6.0" fill="#1e1e1e" stroke="#1e1e1e" stroke-width="0.2" text-anchor="middle" transform="translate(139.0,359.0) rotate(-90) scale(0.900,1)">% TNF-α<tspan font-size="3.6" dy="-2.2">+</tspan><tspan dy="2.2"> cells</tspan></text>
<line x1="286.50" y1="328.30" x2="286.50" y2="391.20" stroke="#1a1a1a" stroke-width="1.4"/>
<line x1="285.90" y1="390.60" x2="382.50" y2="390.60" stroke="#1a1a1a" stroke-width="1.4"/>
<line x1="283.70" y1="331.50" x2="286.50" y2="331.50" stroke="#333" stroke-width="1.0"/>
<text x="280.60" y="333.20" font-size="5.6" text-anchor="end" fill="#333" stroke="#333" stroke-width="0.15" >60</text>
<line x1="283.70" y1="351.20" x2="286.50" y2="351.20" stroke="#333" stroke-width="1.0"/>
<text x="280.60" y="352.90" font-size="5.6" text-anchor="end" fill="#333" stroke="#333" stroke-width="0.15" >40</text>
<line x1="283.70" y1="371.00" x2="286.50" y2="371.00" stroke="#333" stroke-width="1.0"/>
<text x="280.60" y="372.70" font-size="5.6" text-anchor="end" fill="#333" stroke="#333" stroke-width="0.15" >20</text>
<line x1="283.70" y1="390.60" x2="286.50" y2="390.60" stroke="#333" stroke-width="1.0"/>
<text x="280.60" y="392.30" font-size="5.6" text-anchor="end" fill="#333" stroke="#333" stroke-width="0.15" >0</text>
<line x1="301.40" y1="390.60" x2="301.40" y2="393.80" stroke="#333" stroke-width="1.0"/>
<circle cx="298.00" cy="371.40" r="1.2" fill="#333"/>
<circle cx="304.00" cy="371.40" r="1.2" fill="#333"/>
<circle cx="301.00" cy="375.30" r="1.2" fill="#333"/>
<circle cx="298.00" cy="384.90" r="1.2" fill="#333"/>
<circle cx="301.00" cy="387.00" r="1.2" fill="#333"/>
<circle cx="305.00" cy="387.00" r="1.2" fill="#333"/>
<line x1="301.40" y1="371.40" x2="301.40" y2="387.00" stroke="#1a1a1a" stroke-width="1.1"/>
<line x1="297.50" y1="371.40" x2="305.30" y2="371.40" stroke="#1a1a1a" stroke-width="1.3"/>
<line x1="297.50" y1="387.00" x2="305.30" y2="387.00" stroke="#1a1a1a" stroke-width="1.3"/>
<line x1="294.10" y1="379.30" x2="308.70" y2="379.30" stroke="#1a1a1a" stroke-width="1.4"/>
<line x1="322.90" y1="390.60" x2="322.90" y2="393.80" stroke="#333" stroke-width="1.0"/>
<circle cx="322.90" cy="340.20" r="1.2" fill="#333"/>
<circle cx="321.00" cy="364.10" r="1.2" fill="#333"/>
<circle cx="324.00" cy="366.80" r="1.2" fill="#333"/>
<circle cx="323.00" cy="375.60" r="1.2" fill="#333"/>
<circle cx="324.00" cy="384.90" r="1.2" fill="#333"/>
<circle cx="320.00" cy="389.00" r="1.2" fill="#333"/>
<circle cx="325.00" cy="389.00" r="1.2" fill="#333"/>
<line x1="322.90" y1="355.40" x2="322.90" y2="390.60" stroke="#1a1a1a" stroke-width="1.1"/>
<line x1="319.00" y1="355.40" x2="326.80" y2="355.40" stroke="#1a1a1a" stroke-width="1.3"/>
<line x1="315.60" y1="372.60" x2="330.20" y2="372.60" stroke="#1a1a1a" stroke-width="1.4"/>
<line x1="345.70" y1="390.60" x2="345.70" y2="393.80" stroke="#333" stroke-width="1.0"/>
<circle cx="345.70" cy="364.70" r="1.2" fill="#333"/>
<circle cx="340.00" cy="383.80" r="1.2" fill="#333"/>
<circle cx="350.00" cy="382.80" r="1.2" fill="#333"/>
<circle cx="345.00" cy="386.00" r="1.2" fill="#333"/>
<line x1="345.70" y1="369.80" x2="345.70" y2="388.90" stroke="#1a1a1a" stroke-width="1.1"/>
<line x1="341.80" y1="369.80" x2="349.60" y2="369.80" stroke="#1a1a1a" stroke-width="1.3"/>
<line x1="341.80" y1="388.90" x2="349.60" y2="388.90" stroke="#1a1a1a" stroke-width="1.3"/>
<line x1="338.40" y1="379.00" x2="353.00" y2="379.00" stroke="#1a1a1a" stroke-width="1.4"/>
<line x1="367.60" y1="390.60" x2="367.60" y2="393.80" stroke="#333" stroke-width="1.0"/>
<circle cx="367.60" cy="343.90" r="1.2" fill="#333"/>
<circle cx="364.00" cy="381.60" r="1.2" fill="#333"/>
<circle cx="368.00" cy="382.40" r="1.2" fill="#333"/>
<circle cx="372.00" cy="381.00" r="1.2" fill="#333"/>
<circle cx="370.00" cy="387.20" r="1.2" fill="#333"/>
<line x1="367.60" y1="360.00" x2="367.60" y2="390.60" stroke="#1a1a1a" stroke-width="1.1"/>
<line x1="363.70" y1="360.00" x2="371.50" y2="360.00" stroke="#1a1a1a" stroke-width="1.3"/>
<line x1="360.30" y1="376.00" x2="374.90" y2="376.00" stroke="#1a1a1a" stroke-width="1.4"/>
<text x="288.80" y="400.60" font-size="5.2" text-anchor="start" fill="#1e1e1e" stroke="#1e1e1e" stroke-width="0.2" >CD56<tspan font-size="3.3" dx="0.4" dy="-2.3">dim</tspan></text>
<text x="288.80" y="407.30" font-size="5.2" text-anchor="start" fill="#1e1e1e" stroke="#1e1e1e" stroke-width="0.2" >CD16<tspan font-size="3.3" dx="0.4" dy="-2.3">pos</tspan></text>
<text x="312.90" y="400.60" font-size="5.2" text-anchor="start" fill="#1e1e1e" stroke="#1e1e1e" stroke-width="0.2" >CD56<tspan font-size="3.3" dx="0.4" dy="-2.3">neg</tspan></text>
<text x="312.90" y="407.30" font-size="5.2" text-anchor="start" fill="#1e1e1e" stroke="#1e1e1e" stroke-width="0.2" >CD16<tspan font-size="3.3" dx="0.4" dy="-2.3">pos</tspan></text>
<text x="336.90" y="400.60" font-size="5.2" text-anchor="start" fill="#1e1e1e" stroke="#1e1e1e" stroke-width="0.2" >CD56<tspan font-size="3.3" dx="0.4" dy="-2.3">dim</tspan></text>
<text x="336.90" y="407.30" font-size="5.2" text-anchor="start" fill="#1e1e1e" stroke="#1e1e1e" stroke-width="0.2" >CD16<tspan font-size="3.3" dx="0.4" dy="-2.3">pos</tspan></text>
<text x="361.00" y="400.60" font-size="5.2" text-anchor="start" fill="#1e1e1e" stroke="#1e1e1e" stroke-width="0.2" >CD56<tspan font-size="3.3" dx="0.4" dy="-2.3">neg</tspan></text>
<text x="361.00" y="407.30" font-size="5.2" text-anchor="start" fill="#1e1e1e" stroke="#1e1e1e" stroke-width="0.2" >CD16<tspan font-size="3.3" dx="0.4" dy="-2.3">pos</tspan></text>
<text x="311.00" y="322.20" font-size="5.6" text-anchor="middle" fill="#1e1e1e" stroke="#1e1e1e" stroke-width="0.15" >K562</text>
<text x="311.00" y="328.20" font-size="5.4" text-anchor="middle" fill="#1e1e1e" stroke="#1e1e1e" stroke-width="0.15" >Healthy</text>
<text x="347.30" y="322.20" font-size="5.6" text-anchor="middle" fill="#1e1e1e" stroke="#1e1e1e" stroke-width="0.15" >K562</text>
<text x="347.30" y="328.20" font-size="5.4" text-anchor="middle" fill="#1e1e1e" stroke="#1e1e1e" stroke-width="0.15" >BL</text>
<text x="0" y="0" font-size="6.0" fill="#1e1e1e" stroke="#1e1e1e" stroke-width="0.2" text-anchor="middle" transform="translate(267.8,359.6) rotate(-90) scale(0.839,1)">% CD107a<tspan font-size="3.6" dy="-2.2">+</tspan><tspan dy="2.2"> cells</tspan></text>
<line x1="413.90" y1="328.30" x2="413.90" y2="391.20" stroke="#1a1a1a" stroke-width="1.4"/>
<line x1="413.30" y1="390.60" x2="505.60" y2="390.60" stroke="#1a1a1a" stroke-width="1.4"/>
<line x1="411.10" y1="331.50" x2="413.90" y2="331.50" stroke="#333" stroke-width="1.0"/>
<text x="408.00" y="333.20" font-size="5.6" text-anchor="end" fill="#333" stroke="#333" stroke-width="0.15" >1.0</text>
<line x1="411.10" y1="343.40" x2="413.90" y2="343.40" stroke="#333" stroke-width="1.0"/>
<text x="408.00" y="345.10" font-size="5.6" text-anchor="end" fill="#333" stroke="#333" stroke-width="0.15" >0.8</text>
<line x1="411.10" y1="355.00" x2="413.90" y2="355.00" stroke="#333" stroke-width="1.0"/>
<text x="408.00" y="356.70" font-size="5.6" text-anchor="end" fill="#333" stroke="#333" stroke-width="0.15" >0.6</text>
<line x1="411.10" y1="366.90" x2="413.90" y2="366.90" stroke="#333" stroke-width="1.0"/>
<text x="408.00" y="368.60" font-size="5.6" text-anchor="end" fill="#333" stroke="#333" stroke-width="0.15" >0.4</text>
<line x1="411.10" y1="378.80" x2="413.90" y2="378.80" stroke="#333" stroke-width="1.0"/>
<text x="408.00" y="380.50" font-size="5.6" text-anchor="end" fill="#333" stroke="#333" stroke-width="0.15" >0.2</text>
<line x1="411.10" y1="390.60" x2="413.90" y2="390.60" stroke="#333" stroke-width="1.0"/>
<text x="408.00" y="392.30" font-size="5.6" text-anchor="end" fill="#333" stroke="#333" stroke-width="0.15" >0.0</text>
<line x1="427.80" y1="390.60" x2="427.80" y2="393.80" stroke="#333" stroke-width="1.0"/>
<circle cx="427.80" cy="369.70" r="1.2" fill="#333"/>
<circle cx="428.00" cy="377.60" r="1.2" fill="#333"/>
<circle cx="425.00" cy="387.00" r="1.2" fill="#333"/>
<circle cx="432.00" cy="387.00" r="1.2" fill="#333"/>
<line x1="427.80" y1="375.60" x2="427.80" y2="390.60" stroke="#1a1a1a" stroke-width="1.1"/>
<line x1="423.90" y1="375.60" x2="431.70" y2="375.60" stroke="#1a1a1a" stroke-width="1.3"/>
<line x1="420.50" y1="382.30" x2="435.10" y2="382.30" stroke="#1a1a1a" stroke-width="1.4"/>
<line x1="448.80" y1="390.60" x2="448.80" y2="393.80" stroke="#333" stroke-width="1.0"/>
<circle cx="446.00" cy="380.00" r="1.2" fill="#333"/>
<circle cx="452.00" cy="380.00" r="1.2" fill="#333"/>
<circle cx="449.00" cy="389.00" r="1.2" fill="#333"/>
<line x1="448.80" y1="379.80" x2="448.80" y2="390.60" stroke="#1a1a1a" stroke-width="1.1"/>
<line x1="444.90" y1="379.80" x2="452.70" y2="379.80" stroke="#1a1a1a" stroke-width="1.3"/>
<line x1="441.50" y1="384.90" x2="456.10" y2="384.90" stroke="#1a1a1a" stroke-width="1.4"/>
<line x1="470.10" y1="390.60" x2="470.10" y2="393.80" stroke="#333" stroke-width="1.0"/>
<circle cx="470.10" cy="341.00" r="1.2" fill="#333"/>
<circle cx="465.00" cy="387.80" r="1.2" fill="#333"/>
<circle cx="470.00" cy="387.80" r="1.2" fill="#333"/>
<circle cx="475.00" cy="387.80" r="1.2" fill="#333"/>
<line x1="470.10" y1="361.00" x2="470.10" y2="390.60" stroke="#1a1a1a" stroke-width="1.1"/>
<line x1="466.20" y1="361.00" x2="474.00" y2="361.00" stroke="#1a1a1a" stroke-width="1.3"/>
<line x1="462.80" y1="378.20" x2="477.40" y2="378.20" stroke="#1a1a1a" stroke-width="1.4"/>
<line x1="491.30" y1="390.60" x2="491.30" y2="393.80" stroke="#333" stroke-width="1.0"/>
<circle cx="491.30" cy="369.80" r="1.2" fill="#333"/>
<circle cx="488.00" cy="388.90" r="1.2" fill="#333"/>
<circle cx="494.00" cy="386.70" r="1.2" fill="#333"/>
<line x1="491.30" y1="376.50" x2="491.30" y2="390.60" stroke="#1a1a1a" stroke-width="1.1"/>
<line x1="487.40" y1="376.50" x2="495.20" y2="376.50" stroke="#1a1a1a" stroke-width="1.3"/>
<line x1="484.00" y1="384.50" x2="498.60" y2="384.50" stroke="#1a1a1a" stroke-width="1.4"/>
<text x="415.40" y="400.60" font-size="5.2" text-anchor="start" fill="#1e1e1e" stroke="#1e1e1e" stroke-width="0.2" >CD56<tspan font-size="3.3" dx="0.4" dy="-2.3">dim</tspan></text>
<text x="415.40" y="407.30" font-size="5.2" text-anchor="start" fill="#1e1e1e" stroke="#1e1e1e" stroke-width="0.2" >CD16<tspan font-size="3.3" dx="0.4" dy="-2.3">pos</tspan></text>
<text x="438.50" y="400.60" font-size="5.2" text-anchor="start" fill="#1e1e1e" stroke="#1e1e1e" stroke-width="0.2" >CD56<tspan font-size="3.3" dx="0.4" dy="-2.3">neg</tspan></text>
<text x="438.50" y="407.30" font-size="5.2" text-anchor="start" fill="#1e1e1e" stroke="#1e1e1e" stroke-width="0.2" >CD16<tspan font-size="3.3" dx="0.4" dy="-2.3">pos</tspan></text>
<text x="461.50" y="400.60" font-size="5.2" text-anchor="start" fill="#1e1e1e" stroke="#1e1e1e" stroke-width="0.2" >CD56<tspan font-size="3.3" dx="0.4" dy="-2.3">dim</tspan></text>
<text x="461.50" y="407.30" font-size="5.2" text-anchor="start" fill="#1e1e1e" stroke="#1e1e1e" stroke-width="0.2" >CD16<tspan font-size="3.3" dx="0.4" dy="-2.3">pos</tspan></text>
<text x="484.60" y="400.60" font-size="5.2" text-anchor="start" fill="#1e1e1e" stroke="#1e1e1e" stroke-width="0.2" >CD56<tspan font-size="3.3" dx="0.4" dy="-2.3">neg</tspan></text>
<text x="484.60" y="407.30" font-size="5.2" text-anchor="start" fill="#1e1e1e" stroke="#1e1e1e" stroke-width="0.2" >CD16<tspan font-size="3.3" dx="0.4" dy="-2.3">pos</tspan></text>
<text x="440.60" y="322.20" font-size="5.6" text-anchor="middle" fill="#1e1e1e" stroke="#1e1e1e" stroke-width="0.15" >K562</text>
<text x="440.60" y="328.20" font-size="5.4" text-anchor="middle" fill="#1e1e1e" stroke="#1e1e1e" stroke-width="0.15" >Healthy</text>
<text x="481.40" y="322.20" font-size="5.6" text-anchor="middle" fill="#1e1e1e" stroke="#1e1e1e" stroke-width="0.15" >K562</text>
<text x="481.40" y="328.20" font-size="5.4" text-anchor="middle" fill="#1e1e1e" stroke="#1e1e1e" stroke-width="0.15" >BL</text>
<text x="0" y="0" font-size="6.0" fill="#1e1e1e" stroke="#1e1e1e" stroke-width="0.2" text-anchor="middle" transform="translate(393.8,359.8) rotate(-90) scale(0.871,1)">% IFN-γ<tspan font-size="3.6" dy="-2.2">+</tspan><tspan dy="2.2"> cells</tspan></text>
<line x1="14.60" y1="22.30" x2="14.60" y2="39.80" stroke="#1a1a1a" stroke-width="1.3"/>
<line x1="14.60" y1="96.10" x2="14.60" y2="131.90" stroke="#1a1a1a" stroke-width="1.3"/>
<line x1="14.60" y1="184.00" x2="14.60" y2="226.50" stroke="#1a1a1a" stroke-width="1.3"/>
<line x1="14.60" y1="278.50" x2="14.60" y2="298.40" stroke="#1a1a1a" stroke-width="1.3"/>
<path d="M12.50 27.60L14.60 22.30L16.70 27.60Z" fill="#1a1a1a"/>
<line x1="22.50" y1="305.90" x2="50.00" y2="305.90" stroke="#1a1a1a" stroke-width="1.5"/>
<line x1="103.80" y1="305.90" x2="177.50" y2="305.90" stroke="#1a1a1a" stroke-width="1.5"/>
<line x1="231.00" y1="305.90" x2="253.00" y2="305.90" stroke="#1a1a1a" stroke-width="1.5"/>
<path d="M251.20 303.90L256.00 305.90L251.20 307.90Z" fill="#1a1a1a"/>
<line x1="268.60" y1="19.60" x2="268.60" y2="39.60" stroke="#1a1a1a" stroke-width="1.3"/>
<line x1="268.60" y1="95.80" x2="268.60" y2="131.50" stroke="#1a1a1a" stroke-width="1.3"/>
<line x1="268.60" y1="184.00" x2="268.60" y2="227.00" stroke="#1a1a1a" stroke-width="1.3"/>
<line x1="268.60" y1="278.20" x2="268.60" y2="298.70" stroke="#1a1a1a" stroke-width="1.3"/>
<path d="M266.50 24.90L268.60 19.60L270.70 24.90Z" fill="#1a1a1a"/>
<line x1="276.00" y1="305.90" x2="303.80" y2="305.90" stroke="#1a1a1a" stroke-width="1.5"/>
<line x1="357.50" y1="305.90" x2="431.30" y2="305.90" stroke="#1a1a1a" stroke-width="1.5"/>
<line x1="485.30" y1="305.90" x2="510.00" y2="305.90" stroke="#1a1a1a" stroke-width="1.5"/>
<path d="M508.40 303.90L513.20 305.90L508.40 307.90Z" fill="#1a1a1a"/>
<g transform="translate(17.80,81.60) rotate(-90)">
<text x="0" y="0" font-size="9.4" fill="#1a1a1a" stroke="#1a1a1a" stroke-width="0.35" textLength="15.7" lengthAdjust="spacingAndGlyphs">CD56</text>
<text x="18.10" y="-3.4" font-size="6.7" fill="#1a1a1a" stroke="#1a1a1a" stroke-width="0.35" textLength="13.3" lengthAdjust="spacingAndGlyphs">bright</text>
</g>
<g transform="translate(17.80,175.20) rotate(-90)">
<text x="0" y="0" font-size="9.4" fill="#1a1a1a" stroke="#1a1a1a" stroke-width="0.35" textLength="15.2" lengthAdjust="spacingAndGlyphs">CD56</text>
<text x="17.90" y="-3.1" font-size="6.2" fill="#1a1a1a" stroke="#1a1a1a" stroke-width="0.35" textLength="8.1" lengthAdjust="spacingAndGlyphs">dim</text>
</g>
<g transform="translate(17.80,267.20) rotate(-90)">
<text x="0" y="0" font-size="9.4" fill="#1a1a1a" stroke="#1a1a1a" stroke-width="0.35" textLength="15.7" lengthAdjust="spacingAndGlyphs">CD56</text>
<text x="17.90" y="-3.1" font-size="6.2" fill="#1a1a1a" stroke="#1a1a1a" stroke-width="0.35" textLength="8.1" lengthAdjust="spacingAndGlyphs">neg</text>
</g>
<g transform="translate(271.40,81.20) rotate(-90)">
<text x="0" y="0" font-size="9.4" fill="#1a1a1a" stroke="#1a1a1a" stroke-width="0.35" textLength="15.6" lengthAdjust="spacingAndGlyphs">CD56</text>
<text x="18.00" y="-3.4" font-size="6.7" fill="#1a1a1a" stroke="#1a1a1a" stroke-width="0.35" textLength="13.3" lengthAdjust="spacingAndGlyphs">bright</text>
</g>
<g transform="translate(271.40,175.80) rotate(-90)">
<text x="0" y="0" font-size="9.4" fill="#1a1a1a" stroke="#1a1a1a" stroke-width="0.35" textLength="16.3" lengthAdjust="spacingAndGlyphs">CD56</text>
<text x="17.90" y="-3.1" font-size="6.2" fill="#1a1a1a" stroke="#1a1a1a" stroke-width="0.35" textLength="8.7" lengthAdjust="spacingAndGlyphs">dim</text>
</g>
<g transform="translate(271.40,267.80) rotate(-90)">
<text x="0" y="0" font-size="9.4" fill="#1a1a1a" stroke="#1a1a1a" stroke-width="0.35" textLength="15.8" lengthAdjust="spacingAndGlyphs">CD56</text>
<text x="17.90" y="-3.1" font-size="6.2" fill="#1a1a1a" stroke="#1a1a1a" stroke-width="0.35" textLength="8.7" lengthAdjust="spacingAndGlyphs">neg</text>
</g>
<text x="60.80" y="308.30" font-size="9.0" fill="#1a1a1a" stroke="#1a1a1a" stroke-width="0.35" textLength="15.4" lengthAdjust="spacingAndGlyphs">CD16</text>
<text x="78.40" y="305.30" font-size="6.0" fill="#222" stroke="#222" stroke-width="0.25" textLength="8.6" lengthAdjust="spacingAndGlyphs">neg</text>
<text x="187.90" y="308.30" font-size="9.0" fill="#1a1a1a" stroke="#1a1a1a" stroke-width="0.35" textLength="15.4" lengthAdjust="spacingAndGlyphs">CD16</text>
<text x="205.20" y="305.30" font-size="6.0" fill="#222" stroke="#222" stroke-width="0.25" textLength="8.0" lengthAdjust="spacingAndGlyphs">pos</text>
<text x="314.60" y="308.20" font-size="9.0" fill="#1a1a1a" stroke="#1a1a1a" stroke-width="0.35" textLength="15.4" lengthAdjust="spacingAndGlyphs">CD16</text>
<text x="332.00" y="305.20" font-size="6.0" fill="#222" stroke="#222" stroke-width="0.25" textLength="8.6" lengthAdjust="spacingAndGlyphs">neg</text>
<text x="441.80" y="308.20" font-size="9.0" fill="#1a1a1a" stroke="#1a1a1a" stroke-width="0.35" textLength="15.4" lengthAdjust="spacingAndGlyphs">CD16</text>
<text x="459.20" y="305.20" font-size="6.0" fill="#222" stroke="#222" stroke-width="0.25" textLength="8.0" lengthAdjust="spacingAndGlyphs">pos</text>
<text x="85.50" y="238.00" font-size="7.9" text-anchor="middle" fill="#1a1a1a" stroke="#1a1a1a" stroke-width="0.22" >% of MIP-1β<tspan font-size="5.8" dy="-3.2">+</tspan><tspan dy="3.2"> cells in</tspan></text>
<text x="85.50" y="247.70" font-size="7.9" text-anchor="middle" fill="#1a1a1a" stroke="#1a1a1a" stroke-width="0.22" >each subsets</text>
<text x="85.50" y="257.40" font-size="7.9" text-anchor="middle" fill="#1a1a1a" stroke="#1a1a1a" stroke-width="0.22" >unstimulated and after</text>
<text x="85.50" y="267.10" font-size="7.9" text-anchor="middle" fill="#1a1a1a" stroke="#1a1a1a" stroke-width="0.22" >K562 stimulation</text>
<text x="335.50" y="238.00" font-size="7.9" text-anchor="middle" fill="#1a1a1a" stroke="#1a1a1a" stroke-width="0.22" >% of TNF-α<tspan font-size="5.8" dy="-3.2">+</tspan><tspan dy="3.2"> cells in</tspan></text>
<text x="335.50" y="247.70" font-size="7.9" text-anchor="middle" fill="#1a1a1a" stroke="#1a1a1a" stroke-width="0.22" >each subsets</text>
<text x="335.50" y="257.40" font-size="7.9" text-anchor="middle" fill="#1a1a1a" stroke="#1a1a1a" stroke-width="0.22" >unstimulated and</text>
<text x="335.50" y="267.10" font-size="7.9" text-anchor="middle" fill="#1a1a1a" stroke="#1a1a1a" stroke-width="0.22" >after K562 stimulation</text>
<text x="7.0" y="17.3" font-size="12.3" font-weight="bold" fill="#111" stroke="#111" stroke-width="0.7">A</text>
<text x="256.9" y="17.5" font-size="12.3" font-weight="bold" fill="#111" stroke="#111" stroke-width="0.7">B</text>
<text x="8.3" y="324.6" font-size="12.3" font-weight="bold" fill="#111" stroke="#111" stroke-width="0.7">C</text>
<rect x="0.6" y="0.6" width="518.6" height="413.4" fill="none" stroke="#111" stroke-width="1.3"/>
<line x1="519.30" y1="0.00" x2="519.30" y2="415.00" stroke="#111" stroke-width="1.5"/>
<line x1="0.00" y1="414.20" x2="520.00" y2="414.20" stroke="#111" stroke-width="1.7"/>
</svg></body></html>
